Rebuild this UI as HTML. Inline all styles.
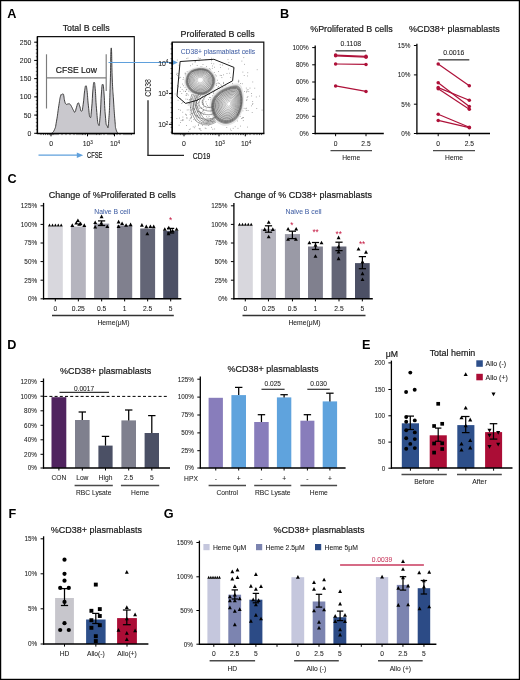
<!DOCTYPE html>
<html><head><meta charset="utf-8"><style>
html,body{margin:0;padding:0;background:#fff;}
body{width:520px;height:680px;position:relative;overflow:hidden;font-family:"Liberation Sans", sans-serif;}
.frame{position:absolute;left:0;top:0;width:520px;height:680px;box-sizing:border-box;border:1.5px solid #000;}
</style></head><body>
<svg width="520" height="680" viewBox="0 0 520 680" style="position:absolute;left:0;top:0;will-change:transform">
<g font-family='"Liberation Sans", sans-serif'>
<text x="0" y="0" font-size="12.3" font-weight="bold" fill="#000" transform="translate(7.2 17.5) scale(1.03 1)">A</text>
<text x="0" y="0" font-size="12.3" font-weight="bold" fill="#000" transform="translate(280.0 17.5) scale(1.03 1)">B</text>
<text x="0" y="0" font-size="12.3" font-weight="bold" fill="#000" transform="translate(7.5 183.2) scale(1.03 1)">C</text>
<text x="0" y="0" font-size="12.3" font-weight="bold" fill="#000" transform="translate(7.2 348.7) scale(1.03 1)">D</text>
<text x="0" y="0" font-size="12.3" font-weight="bold" fill="#000" transform="translate(362.0 348.7) scale(1.03 1)">E</text>
<text x="0" y="0" font-size="12.3" font-weight="bold" fill="#000" transform="translate(8.6 518.1) scale(1.03 1)">F</text>
<text x="0" y="0" font-size="12.3" font-weight="bold" fill="#000" transform="translate(163.7 518.1) scale(1.03 1)">G</text>
<text x="0" y="0" transform="translate(86.10 31.38) scale(1 1.1)" font-size="8.8" text-anchor="middle" fill="#1a1a1a" stroke="#1a1a1a" stroke-width="0.2" font-weight="normal">Total B cells</text>
<path d="M37.4,133.5 L37.4,36.6 L134.3,36.6 L134.3,133.5" fill="none" stroke="#111" stroke-width="1.1"/>
<path d="M51.30,133.50 C52.26,132.33 52.94,133.29 54.50,129.60 C56.06,125.91 55.21,128.34 56.50,121.20 C57.79,114.06 57.63,113.21 58.80,105.80 C59.97,98.39 59.56,99.83 60.40,96.50 C61.24,93.17 60.76,95.39 61.60,94.70 C62.44,94.01 62.54,93.87 63.20,94.20 C63.86,94.53 63.35,93.70 63.80,95.80 C64.25,97.90 63.98,98.68 64.70,101.20 C65.42,103.72 65.18,103.39 66.20,104.20 C67.22,105.01 66.99,103.90 68.10,103.90 C69.21,103.90 68.88,103.42 69.90,104.20 C70.92,104.98 70.42,104.64 71.50,106.50 C72.58,108.36 72.45,108.78 73.50,110.40 C74.55,112.02 74.10,112.83 75.00,111.90 C75.90,110.97 75.57,109.97 76.50,107.30 C77.43,104.63 77.17,103.45 78.10,103.00 C79.03,102.55 78.58,103.34 79.60,105.80 C80.62,108.26 80.42,111.68 81.50,111.20 C82.58,110.72 82.24,110.44 83.20,104.20 C84.16,97.96 83.89,95.83 84.70,90.40 C85.51,84.97 85.21,86.10 85.90,86.10 C86.59,86.10 86.25,84.49 87.00,90.40 C87.75,96.31 87.47,97.73 88.40,105.80 C89.33,113.87 89.14,116.40 90.10,117.30 C91.06,118.20 90.73,117.35 91.60,108.80 C92.47,100.25 92.25,96.63 93.00,88.80 C93.75,80.97 93.44,82.70 94.10,82.70 C94.76,82.70 94.48,80.97 95.20,88.80 C95.92,96.63 95.54,98.09 96.50,108.80 C97.46,119.51 97.32,122.19 98.40,124.50 C99.48,126.81 99.17,126.28 100.10,116.50 C101.03,106.72 100.72,101.44 101.50,91.90 C102.28,82.36 101.98,84.70 102.70,84.70 C103.42,84.70 103.12,82.81 103.90,91.90 C104.68,100.99 104.37,104.83 105.30,115.00 C106.23,125.17 105.95,124.42 107.00,125.80 C108.05,127.18 107.84,131.84 108.80,119.60 C109.76,107.36 109.48,106.48 110.20,85.00 C110.92,63.52 110.57,49.50 111.20,48.00 C111.83,46.50 111.61,64.40 112.30,80.00 C112.99,95.60 112.69,87.64 113.50,100.00 C114.31,112.36 114.22,112.32 115.00,121.20 C115.78,130.08 115.11,125.91 116.10,129.60 C117.09,133.29 117.64,132.33 118.30,133.50 Z" fill="#c9c8cd" stroke="#222" stroke-width="0.85" stroke-linejoin="round"/>
<line x1="36.80" y1="133.50" x2="134.90" y2="133.50" stroke="#000" stroke-width="1.5" />
<line x1="37.40" y1="36.60" x2="37.40" y2="133.50" stroke="#000" stroke-width="1.4" />
<line x1="34.20" y1="42.20" x2="37.40" y2="42.20" stroke="#000" stroke-width="1.0" />
<text x="31.30" y="44.68" font-size="6.9" text-anchor="end" fill="#1a1a1a" stroke="#1a1a1a" stroke-width="0.06" font-weight="normal" >250</text>
<line x1="34.20" y1="60.42" x2="37.40" y2="60.42" stroke="#000" stroke-width="1.0" />
<text x="31.30" y="62.90" font-size="6.9" text-anchor="end" fill="#1a1a1a" stroke="#1a1a1a" stroke-width="0.06" font-weight="normal" >200</text>
<line x1="34.20" y1="78.64" x2="37.40" y2="78.64" stroke="#000" stroke-width="1.0" />
<text x="31.30" y="81.12" font-size="6.9" text-anchor="end" fill="#1a1a1a" stroke="#1a1a1a" stroke-width="0.06" font-weight="normal" >150</text>
<line x1="34.20" y1="96.86" x2="37.40" y2="96.86" stroke="#000" stroke-width="1.0" />
<text x="31.30" y="99.34" font-size="6.9" text-anchor="end" fill="#1a1a1a" stroke="#1a1a1a" stroke-width="0.06" font-weight="normal" >100</text>
<line x1="34.20" y1="115.08" x2="37.40" y2="115.08" stroke="#000" stroke-width="1.0" />
<text x="31.30" y="117.56" font-size="6.9" text-anchor="end" fill="#1a1a1a" stroke="#1a1a1a" stroke-width="0.06" font-weight="normal" >50</text>
<line x1="34.20" y1="133.30" x2="37.40" y2="133.30" stroke="#000" stroke-width="1.0" />
<text x="31.30" y="135.78" font-size="6.9" text-anchor="end" fill="#1a1a1a" stroke="#1a1a1a" stroke-width="0.06" font-weight="normal" >0</text>
<line x1="35.80" y1="133.30" x2="37.40" y2="133.30" stroke="#000" stroke-width="0.6" />
<line x1="35.80" y1="129.66" x2="37.40" y2="129.66" stroke="#000" stroke-width="0.6" />
<line x1="35.80" y1="126.01" x2="37.40" y2="126.01" stroke="#000" stroke-width="0.6" />
<line x1="35.80" y1="122.37" x2="37.40" y2="122.37" stroke="#000" stroke-width="0.6" />
<line x1="35.80" y1="118.72" x2="37.40" y2="118.72" stroke="#000" stroke-width="0.6" />
<line x1="35.80" y1="115.08" x2="37.40" y2="115.08" stroke="#000" stroke-width="0.6" />
<line x1="35.80" y1="111.44" x2="37.40" y2="111.44" stroke="#000" stroke-width="0.6" />
<line x1="35.80" y1="107.79" x2="37.40" y2="107.79" stroke="#000" stroke-width="0.6" />
<line x1="35.80" y1="104.15" x2="37.40" y2="104.15" stroke="#000" stroke-width="0.6" />
<line x1="35.80" y1="100.50" x2="37.40" y2="100.50" stroke="#000" stroke-width="0.6" />
<line x1="35.80" y1="96.86" x2="37.40" y2="96.86" stroke="#000" stroke-width="0.6" />
<line x1="35.80" y1="93.22" x2="37.40" y2="93.22" stroke="#000" stroke-width="0.6" />
<line x1="35.80" y1="89.57" x2="37.40" y2="89.57" stroke="#000" stroke-width="0.6" />
<line x1="35.80" y1="85.93" x2="37.40" y2="85.93" stroke="#000" stroke-width="0.6" />
<line x1="35.80" y1="82.28" x2="37.40" y2="82.28" stroke="#000" stroke-width="0.6" />
<line x1="35.80" y1="78.64" x2="37.40" y2="78.64" stroke="#000" stroke-width="0.6" />
<line x1="35.80" y1="75.00" x2="37.40" y2="75.00" stroke="#000" stroke-width="0.6" />
<line x1="35.80" y1="71.35" x2="37.40" y2="71.35" stroke="#000" stroke-width="0.6" />
<line x1="35.80" y1="67.71" x2="37.40" y2="67.71" stroke="#000" stroke-width="0.6" />
<line x1="35.80" y1="64.06" x2="37.40" y2="64.06" stroke="#000" stroke-width="0.6" />
<line x1="35.80" y1="60.42" x2="37.40" y2="60.42" stroke="#000" stroke-width="0.6" />
<line x1="35.80" y1="56.78" x2="37.40" y2="56.78" stroke="#000" stroke-width="0.6" />
<line x1="35.80" y1="53.13" x2="37.40" y2="53.13" stroke="#000" stroke-width="0.6" />
<line x1="35.80" y1="49.49" x2="37.40" y2="49.49" stroke="#000" stroke-width="0.6" />
<line x1="35.80" y1="45.84" x2="37.40" y2="45.84" stroke="#000" stroke-width="0.6" />
<line x1="35.80" y1="42.20" x2="37.40" y2="42.20" stroke="#000" stroke-width="0.6" />
<line x1="51.00" y1="133.50" x2="51.00" y2="136.30" stroke="#000" stroke-width="1.0" />
<line x1="87.50" y1="133.50" x2="87.50" y2="136.30" stroke="#000" stroke-width="1.0" />
<line x1="114.50" y1="133.50" x2="114.50" y2="136.30" stroke="#000" stroke-width="1.0" />
<line x1="41.00" y1="133.50" x2="41.00" y2="135.10" stroke="#000" stroke-width="0.6" />
<line x1="43.50" y1="133.50" x2="43.50" y2="135.10" stroke="#000" stroke-width="0.6" />
<line x1="45.50" y1="133.50" x2="45.50" y2="135.10" stroke="#000" stroke-width="0.6" />
<line x1="47.50" y1="133.50" x2="47.50" y2="135.10" stroke="#000" stroke-width="0.6" />
<line x1="49.00" y1="133.50" x2="49.00" y2="135.10" stroke="#000" stroke-width="0.6" />
<line x1="50.00" y1="133.50" x2="50.00" y2="135.10" stroke="#000" stroke-width="0.6" />
<line x1="52.00" y1="133.50" x2="52.00" y2="135.10" stroke="#000" stroke-width="0.6" />
<line x1="53.00" y1="133.50" x2="53.00" y2="135.10" stroke="#000" stroke-width="0.6" />
<line x1="54.00" y1="133.50" x2="54.00" y2="135.10" stroke="#000" stroke-width="0.6" />
<line x1="56.00" y1="133.50" x2="56.00" y2="135.10" stroke="#000" stroke-width="0.6" />
<line x1="58.00" y1="133.50" x2="58.00" y2="135.10" stroke="#000" stroke-width="0.6" />
<line x1="62.00" y1="133.50" x2="62.00" y2="135.10" stroke="#000" stroke-width="0.6" />
<line x1="66.00" y1="133.50" x2="66.00" y2="135.10" stroke="#000" stroke-width="0.6" />
<line x1="70.00" y1="133.50" x2="70.00" y2="135.10" stroke="#000" stroke-width="0.6" />
<line x1="74.00" y1="133.50" x2="74.00" y2="135.10" stroke="#000" stroke-width="0.6" />
<line x1="77.00" y1="133.50" x2="77.00" y2="135.10" stroke="#000" stroke-width="0.6" />
<line x1="79.00" y1="133.50" x2="79.00" y2="135.10" stroke="#000" stroke-width="0.6" />
<line x1="81.00" y1="133.50" x2="81.00" y2="135.10" stroke="#000" stroke-width="0.6" />
<line x1="82.50" y1="133.50" x2="82.50" y2="135.10" stroke="#000" stroke-width="0.6" />
<line x1="84.00" y1="133.50" x2="84.00" y2="135.10" stroke="#000" stroke-width="0.6" />
<line x1="85.50" y1="133.50" x2="85.50" y2="135.10" stroke="#000" stroke-width="0.6" />
<line x1="89.00" y1="133.50" x2="89.00" y2="135.10" stroke="#000" stroke-width="0.6" />
<line x1="91.00" y1="133.50" x2="91.00" y2="135.10" stroke="#000" stroke-width="0.6" />
<line x1="93.00" y1="133.50" x2="93.00" y2="135.10" stroke="#000" stroke-width="0.6" />
<line x1="95.00" y1="133.50" x2="95.00" y2="135.10" stroke="#000" stroke-width="0.6" />
<line x1="96.50" y1="133.50" x2="96.50" y2="135.10" stroke="#000" stroke-width="0.6" />
<line x1="98.00" y1="133.50" x2="98.00" y2="135.10" stroke="#000" stroke-width="0.6" />
<line x1="99.50" y1="133.50" x2="99.50" y2="135.10" stroke="#000" stroke-width="0.6" />
<line x1="101.00" y1="133.50" x2="101.00" y2="135.10" stroke="#000" stroke-width="0.6" />
<line x1="104.00" y1="133.50" x2="104.00" y2="135.10" stroke="#000" stroke-width="0.6" />
<line x1="108.00" y1="133.50" x2="108.00" y2="135.10" stroke="#000" stroke-width="0.6" />
<line x1="110.00" y1="133.50" x2="110.00" y2="135.10" stroke="#000" stroke-width="0.6" />
<line x1="112.00" y1="133.50" x2="112.00" y2="135.10" stroke="#000" stroke-width="0.6" />
<line x1="113.50" y1="133.50" x2="113.50" y2="135.10" stroke="#000" stroke-width="0.6" />
<line x1="117.00" y1="133.50" x2="117.00" y2="135.10" stroke="#000" stroke-width="0.6" />
<line x1="120.00" y1="133.50" x2="120.00" y2="135.10" stroke="#000" stroke-width="0.6" />
<line x1="124.00" y1="133.50" x2="124.00" y2="135.10" stroke="#000" stroke-width="0.6" />
<line x1="126.00" y1="133.50" x2="126.00" y2="135.10" stroke="#000" stroke-width="0.6" />
<line x1="128.00" y1="133.50" x2="128.00" y2="135.10" stroke="#000" stroke-width="0.6" />
<line x1="130.00" y1="133.50" x2="130.00" y2="135.10" stroke="#000" stroke-width="0.6" />
<line x1="131.50" y1="133.50" x2="131.50" y2="135.10" stroke="#000" stroke-width="0.6" />
<text x="51.10" y="146.08" font-size="6.9" text-anchor="middle" fill="#1a1a1a" stroke="#1a1a1a" stroke-width="0.06" font-weight="normal" >0</text>
<text x="87.80" y="146.08" font-size="6.9" text-anchor="middle" fill="#1a1a1a" stroke="#1a1a1a" stroke-width="0.06" font-weight="normal" >10<tspan font-size="4.6" dy="-2.4">3</tspan></text>
<text x="115.00" y="146.08" font-size="6.9" text-anchor="middle" fill="#1a1a1a" stroke="#1a1a1a" stroke-width="0.06" font-weight="normal" >10<tspan font-size="4.6" dy="-2.4">4</tspan></text>
<line x1="46.50" y1="54.30" x2="46.50" y2="108.50" stroke="#7c7c7c" stroke-width="1.15" />
<line x1="46.50" y1="77.80" x2="106.20" y2="77.80" stroke="#7c7c7c" stroke-width="1.15" />
<line x1="106.20" y1="54.30" x2="106.20" y2="91.00" stroke="#7c7c7c" stroke-width="1.15" />
<text x="0" y="0" transform="translate(76.30 73.41) scale(1 1.1)" font-size="8.6" text-anchor="middle" fill="#1a1a1a" stroke="#1a1a1a" stroke-width="0.2" font-weight="normal">CFSE Low</text>
<line x1="108.50" y1="62.50" x2="173.50" y2="62.50" stroke="#5fa0dc" stroke-width="1.2" />
<polygon points="171.5,59.5 177.8,62.5 171.5,65.5" fill="#5fa0dc"/>
<line x1="38.50" y1="155.20" x2="78.00" y2="155.20" stroke="#5fa0dc" stroke-width="1.2" />
<polygon points="76.8,152.4 83.2,155.2 76.8,158" fill="#5fa0dc"/>
<text x="94.70" y="158.36" font-size="8.5" text-anchor="middle" fill="#1a1a1a" stroke="#1a1a1a" stroke-width="0.2" font-weight="normal" transform="translate(94.7 0) scale(0.67 1) translate(-94.7 0)">CFSE</text>
<path d="M172.2,133.5 L172.2,42.2 L263.8,42.2 L263.8,133.5" fill="none" stroke="#111" stroke-width="1.2"/>
<line x1="171.60" y1="133.50" x2="264.40" y2="133.50" stroke="#000" stroke-width="1.5" />
<line x1="172.20" y1="42.20" x2="172.20" y2="133.50" stroke="#000" stroke-width="1.4" />
<text x="0" y="0" transform="translate(217.60 36.72) scale(1 1.1)" font-size="8.9" text-anchor="middle" fill="#1a1a1a" stroke="#1a1a1a" stroke-width="0.2" font-weight="normal">Proliferated B cells</text>
<text x="218.00" y="53.73" font-size="6.75" text-anchor="middle" fill="#4663a6" stroke="#4663a6" stroke-width="0.06" font-weight="normal" >CD38+ plasmablast cells</text>
<line x1="169.00" y1="63.00" x2="172.20" y2="63.00" stroke="#000" stroke-width="1.0" />
<text x="163.30" y="65.78" font-size="6.9" text-anchor="middle" fill="#1a1a1a" stroke="#1a1a1a" stroke-width="0.06" font-weight="normal" >10<tspan font-size="4.6" dy="-2.4">4</tspan></text>
<line x1="169.00" y1="93.60" x2="172.20" y2="93.60" stroke="#000" stroke-width="1.0" />
<text x="163.30" y="96.38" font-size="6.9" text-anchor="middle" fill="#1a1a1a" stroke="#1a1a1a" stroke-width="0.06" font-weight="normal" >10<tspan font-size="4.6" dy="-2.4">3</tspan></text>
<line x1="169.00" y1="124.30" x2="172.20" y2="124.30" stroke="#000" stroke-width="1.0" />
<text x="163.30" y="127.08" font-size="6.9" text-anchor="middle" fill="#1a1a1a" stroke="#1a1a1a" stroke-width="0.06" font-weight="normal" >10<tspan font-size="4.6" dy="-2.4">2</tspan></text>
<line x1="170.60" y1="44.00" x2="172.20" y2="44.00" stroke="#000" stroke-width="0.6" />
<line x1="170.60" y1="48.90" x2="172.20" y2="48.90" stroke="#000" stroke-width="0.6" />
<line x1="170.60" y1="53.80" x2="172.20" y2="53.80" stroke="#000" stroke-width="0.6" />
<line x1="170.60" y1="58.70" x2="172.20" y2="58.70" stroke="#000" stroke-width="0.6" />
<line x1="170.60" y1="63.60" x2="172.20" y2="63.60" stroke="#000" stroke-width="0.6" />
<line x1="170.60" y1="68.50" x2="172.20" y2="68.50" stroke="#000" stroke-width="0.6" />
<line x1="170.60" y1="73.40" x2="172.20" y2="73.40" stroke="#000" stroke-width="0.6" />
<line x1="170.60" y1="78.30" x2="172.20" y2="78.30" stroke="#000" stroke-width="0.6" />
<line x1="170.60" y1="83.20" x2="172.20" y2="83.20" stroke="#000" stroke-width="0.6" />
<line x1="170.60" y1="88.10" x2="172.20" y2="88.10" stroke="#000" stroke-width="0.6" />
<line x1="170.60" y1="93.00" x2="172.20" y2="93.00" stroke="#000" stroke-width="0.6" />
<line x1="170.60" y1="97.90" x2="172.20" y2="97.90" stroke="#000" stroke-width="0.6" />
<line x1="170.60" y1="102.80" x2="172.20" y2="102.80" stroke="#000" stroke-width="0.6" />
<line x1="170.60" y1="107.70" x2="172.20" y2="107.70" stroke="#000" stroke-width="0.6" />
<line x1="170.60" y1="112.60" x2="172.20" y2="112.60" stroke="#000" stroke-width="0.6" />
<line x1="170.60" y1="117.50" x2="172.20" y2="117.50" stroke="#000" stroke-width="0.6" />
<line x1="170.60" y1="122.40" x2="172.20" y2="122.40" stroke="#000" stroke-width="0.6" />
<line x1="170.60" y1="127.30" x2="172.20" y2="127.30" stroke="#000" stroke-width="0.6" />
<line x1="170.60" y1="132.20" x2="172.20" y2="132.20" stroke="#000" stroke-width="0.6" />
<line x1="184.00" y1="133.50" x2="184.00" y2="136.30" stroke="#000" stroke-width="1.0" />
<text x="184.00" y="146.08" font-size="6.9" text-anchor="middle" fill="#1a1a1a" stroke="#1a1a1a" stroke-width="0.06" font-weight="normal" >0</text>
<line x1="219.00" y1="133.50" x2="219.00" y2="136.30" stroke="#000" stroke-width="1.0" />
<text x="219.80" y="146.08" font-size="6.9" text-anchor="middle" fill="#1a1a1a" stroke="#1a1a1a" stroke-width="0.06" font-weight="normal" >10<tspan font-size="4.6" dy="-2.4">3</tspan></text>
<line x1="245.30" y1="133.50" x2="245.30" y2="136.30" stroke="#000" stroke-width="1.0" />
<text x="246.10" y="146.08" font-size="6.9" text-anchor="middle" fill="#1a1a1a" stroke="#1a1a1a" stroke-width="0.06" font-weight="normal" >10<tspan font-size="4.6" dy="-2.4">4</tspan></text>
<line x1="175.00" y1="133.50" x2="175.00" y2="135.10" stroke="#000" stroke-width="0.6" />
<line x1="177.00" y1="133.50" x2="177.00" y2="135.10" stroke="#000" stroke-width="0.6" />
<line x1="179.00" y1="133.50" x2="179.00" y2="135.10" stroke="#000" stroke-width="0.6" />
<line x1="180.50" y1="133.50" x2="180.50" y2="135.10" stroke="#000" stroke-width="0.6" />
<line x1="182.00" y1="133.50" x2="182.00" y2="135.10" stroke="#000" stroke-width="0.6" />
<line x1="183.00" y1="133.50" x2="183.00" y2="135.10" stroke="#000" stroke-width="0.6" />
<line x1="185.00" y1="133.50" x2="185.00" y2="135.10" stroke="#000" stroke-width="0.6" />
<line x1="186.00" y1="133.50" x2="186.00" y2="135.10" stroke="#000" stroke-width="0.6" />
<line x1="188.00" y1="133.50" x2="188.00" y2="135.10" stroke="#000" stroke-width="0.6" />
<line x1="190.00" y1="133.50" x2="190.00" y2="135.10" stroke="#000" stroke-width="0.6" />
<line x1="193.00" y1="133.50" x2="193.00" y2="135.10" stroke="#000" stroke-width="0.6" />
<line x1="197.00" y1="133.50" x2="197.00" y2="135.10" stroke="#000" stroke-width="0.6" />
<line x1="201.00" y1="133.50" x2="201.00" y2="135.10" stroke="#000" stroke-width="0.6" />
<line x1="205.00" y1="133.50" x2="205.00" y2="135.10" stroke="#000" stroke-width="0.6" />
<line x1="208.00" y1="133.50" x2="208.00" y2="135.10" stroke="#000" stroke-width="0.6" />
<line x1="210.50" y1="133.50" x2="210.50" y2="135.10" stroke="#000" stroke-width="0.6" />
<line x1="212.50" y1="133.50" x2="212.50" y2="135.10" stroke="#000" stroke-width="0.6" />
<line x1="214.00" y1="133.50" x2="214.00" y2="135.10" stroke="#000" stroke-width="0.6" />
<line x1="215.50" y1="133.50" x2="215.50" y2="135.10" stroke="#000" stroke-width="0.6" />
<line x1="217.00" y1="133.50" x2="217.00" y2="135.10" stroke="#000" stroke-width="0.6" />
<line x1="221.00" y1="133.50" x2="221.00" y2="135.10" stroke="#000" stroke-width="0.6" />
<line x1="224.00" y1="133.50" x2="224.00" y2="135.10" stroke="#000" stroke-width="0.6" />
<line x1="227.00" y1="133.50" x2="227.00" y2="135.10" stroke="#000" stroke-width="0.6" />
<line x1="230.00" y1="133.50" x2="230.00" y2="135.10" stroke="#000" stroke-width="0.6" />
<line x1="233.00" y1="133.50" x2="233.00" y2="135.10" stroke="#000" stroke-width="0.6" />
<line x1="236.00" y1="133.50" x2="236.00" y2="135.10" stroke="#000" stroke-width="0.6" />
<line x1="238.50" y1="133.50" x2="238.50" y2="135.10" stroke="#000" stroke-width="0.6" />
<line x1="240.50" y1="133.50" x2="240.50" y2="135.10" stroke="#000" stroke-width="0.6" />
<line x1="242.00" y1="133.50" x2="242.00" y2="135.10" stroke="#000" stroke-width="0.6" />
<line x1="243.50" y1="133.50" x2="243.50" y2="135.10" stroke="#000" stroke-width="0.6" />
<line x1="247.00" y1="133.50" x2="247.00" y2="135.10" stroke="#000" stroke-width="0.6" />
<line x1="250.00" y1="133.50" x2="250.00" y2="135.10" stroke="#000" stroke-width="0.6" />
<line x1="254.00" y1="133.50" x2="254.00" y2="135.10" stroke="#000" stroke-width="0.6" />
<line x1="257.00" y1="133.50" x2="257.00" y2="135.10" stroke="#000" stroke-width="0.6" />
<line x1="259.50" y1="133.50" x2="259.50" y2="135.10" stroke="#000" stroke-width="0.6" />
<line x1="261.50" y1="133.50" x2="261.50" y2="135.10" stroke="#000" stroke-width="0.6" />
<line x1="148.00" y1="100.20" x2="148.00" y2="155.40" stroke="#222" stroke-width="1.3" />
<line x1="147.35" y1="155.40" x2="184.00" y2="155.40" stroke="#222" stroke-width="1.3" />
<text x="0" y="0" font-size="9.3" fill="#1a1a1a" text-anchor="middle" transform="translate(151.2 88) rotate(-90) scale(0.74 1)">CD38</text>
<text x="201.50" y="158.95" font-size="9.3" text-anchor="middle" fill="#1a1a1a" stroke="#1a1a1a" stroke-width="0.2" font-weight="normal" transform="translate(201.5 0) scale(0.74 1) translate(-201.5 0)">CD19</text>
<rect x="209.2" y="97.0" width="0.75" height="0.75" fill="#7a7a7a"/>
<rect x="187.8" y="81.7" width="0.75" height="0.75" fill="#7a7a7a"/>
<rect x="195.7" y="83.9" width="0.75" height="0.75" fill="#7a7a7a"/>
<rect x="233.1" y="107.6" width="0.75" height="0.75" fill="#7a7a7a"/>
<rect x="231.1" y="98.6" width="0.75" height="0.75" fill="#7a7a7a"/>
<rect x="178.7" y="64.8" width="0.75" height="0.75" fill="#7a7a7a"/>
<rect x="199.7" y="128.1" width="0.75" height="0.75" fill="#7a7a7a"/>
<rect x="205.3" y="76.9" width="0.75" height="0.75" fill="#7a7a7a"/>
<rect x="206.6" y="90.4" width="0.75" height="0.75" fill="#7a7a7a"/>
<rect x="189.0" y="99.0" width="0.75" height="0.75" fill="#7a7a7a"/>
<rect x="216.6" y="117.7" width="0.75" height="0.75" fill="#7a7a7a"/>
<rect x="206.6" y="86.7" width="0.75" height="0.75" fill="#7a7a7a"/>
<rect x="189.8" y="118.4" width="0.75" height="0.75" fill="#7a7a7a"/>
<rect x="217.5" y="108.4" width="0.75" height="0.75" fill="#7a7a7a"/>
<rect x="194.1" y="108.6" width="0.75" height="0.75" fill="#7a7a7a"/>
<rect x="201.8" y="100.5" width="0.75" height="0.75" fill="#7a7a7a"/>
<rect x="181.4" y="93.1" width="0.75" height="0.75" fill="#7a7a7a"/>
<rect x="195.6" y="84.2" width="0.75" height="0.75" fill="#7a7a7a"/>
<rect x="197.0" y="103.3" width="0.75" height="0.75" fill="#7a7a7a"/>
<rect x="198.6" y="107.5" width="0.75" height="0.75" fill="#7a7a7a"/>
<rect x="215.4" y="97.6" width="0.75" height="0.75" fill="#7a7a7a"/>
<rect x="244.0" y="91.1" width="0.75" height="0.75" fill="#7a7a7a"/>
<rect x="207.5" y="120.2" width="0.75" height="0.75" fill="#7a7a7a"/>
<rect x="252.1" y="103.9" width="0.75" height="0.75" fill="#7a7a7a"/>
<rect x="185.6" y="94.8" width="0.75" height="0.75" fill="#7a7a7a"/>
<rect x="191.9" y="85.6" width="0.75" height="0.75" fill="#7a7a7a"/>
<rect x="218.1" y="90.8" width="0.75" height="0.75" fill="#7a7a7a"/>
<rect x="199.2" y="95.0" width="0.75" height="0.75" fill="#7a7a7a"/>
<rect x="181.8" y="89.2" width="0.75" height="0.75" fill="#7a7a7a"/>
<rect x="245.9" y="87.7" width="0.75" height="0.75" fill="#7a7a7a"/>
<rect x="196.0" y="86.7" width="0.75" height="0.75" fill="#7a7a7a"/>
<rect x="252.4" y="81.6" width="0.75" height="0.75" fill="#7a7a7a"/>
<rect x="202.9" y="91.1" width="0.75" height="0.75" fill="#7a7a7a"/>
<rect x="183.1" y="85.4" width="0.75" height="0.75" fill="#7a7a7a"/>
<rect x="211.5" y="84.3" width="0.75" height="0.75" fill="#7a7a7a"/>
<rect x="198.6" y="91.0" width="0.75" height="0.75" fill="#7a7a7a"/>
<rect x="185.0" y="113.8" width="0.75" height="0.75" fill="#7a7a7a"/>
<rect x="212.2" y="121.4" width="0.75" height="0.75" fill="#7a7a7a"/>
<rect x="206.1" y="103.6" width="0.75" height="0.75" fill="#7a7a7a"/>
<rect x="223.1" y="108.9" width="0.75" height="0.75" fill="#7a7a7a"/>
<rect x="232.5" y="107.0" width="0.75" height="0.75" fill="#7a7a7a"/>
<rect x="204.7" y="92.5" width="0.75" height="0.75" fill="#7a7a7a"/>
<rect x="205.9" y="84.0" width="0.75" height="0.75" fill="#7a7a7a"/>
<rect x="197.2" y="85.9" width="0.75" height="0.75" fill="#7a7a7a"/>
<rect x="220.2" y="67.0" width="0.75" height="0.75" fill="#7a7a7a"/>
<rect x="192.4" y="92.6" width="0.75" height="0.75" fill="#7a7a7a"/>
<rect x="222.5" y="105.6" width="0.75" height="0.75" fill="#7a7a7a"/>
<rect x="193.8" y="91.2" width="0.75" height="0.75" fill="#7a7a7a"/>
<rect x="187.6" y="57.7" width="0.75" height="0.75" fill="#7a7a7a"/>
<rect x="214.0" y="66.8" width="0.75" height="0.75" fill="#7a7a7a"/>
<rect x="243.7" y="107.9" width="0.75" height="0.75" fill="#7a7a7a"/>
<rect x="238.2" y="107.5" width="0.75" height="0.75" fill="#7a7a7a"/>
<rect x="194.1" y="88.9" width="0.75" height="0.75" fill="#7a7a7a"/>
<rect x="182.4" y="111.8" width="0.75" height="0.75" fill="#7a7a7a"/>
<rect x="202.7" y="103.8" width="0.75" height="0.75" fill="#7a7a7a"/>
<rect x="237.4" y="115.6" width="0.75" height="0.75" fill="#7a7a7a"/>
<rect x="229.3" y="72.8" width="0.75" height="0.75" fill="#7a7a7a"/>
<rect x="226.1" y="107.7" width="0.75" height="0.75" fill="#7a7a7a"/>
<rect x="197.3" y="92.4" width="0.75" height="0.75" fill="#7a7a7a"/>
<rect x="204.4" y="112.4" width="0.75" height="0.75" fill="#7a7a7a"/>
<rect x="247.1" y="126.7" width="0.75" height="0.75" fill="#7a7a7a"/>
<rect x="229.7" y="114.9" width="0.75" height="0.75" fill="#7a7a7a"/>
<rect x="203.7" y="98.8" width="0.75" height="0.75" fill="#7a7a7a"/>
<rect x="236.5" y="91.5" width="0.75" height="0.75" fill="#7a7a7a"/>
<rect x="197.0" y="111.4" width="0.75" height="0.75" fill="#7a7a7a"/>
<rect x="207.8" y="106.6" width="0.75" height="0.75" fill="#7a7a7a"/>
<rect x="191.0" y="115.8" width="0.75" height="0.75" fill="#7a7a7a"/>
<rect x="188.9" y="129.0" width="0.75" height="0.75" fill="#7a7a7a"/>
<rect x="204.5" y="85.7" width="0.75" height="0.75" fill="#7a7a7a"/>
<rect x="228.2" y="68.6" width="0.75" height="0.75" fill="#7a7a7a"/>
<rect x="214.1" y="103.4" width="0.75" height="0.75" fill="#7a7a7a"/>
<rect x="186.5" y="117.2" width="0.75" height="0.75" fill="#7a7a7a"/>
<rect x="223.3" y="81.9" width="0.75" height="0.75" fill="#7a7a7a"/>
<rect x="229.5" y="106.7" width="0.75" height="0.75" fill="#7a7a7a"/>
<rect x="222.8" y="95.0" width="0.75" height="0.75" fill="#7a7a7a"/>
<rect x="207.2" y="120.5" width="0.75" height="0.75" fill="#7a7a7a"/>
<rect x="191.2" y="74.6" width="0.75" height="0.75" fill="#7a7a7a"/>
<rect x="199.9" y="98.6" width="0.75" height="0.75" fill="#7a7a7a"/>
<rect x="193.4" y="86.8" width="0.75" height="0.75" fill="#7a7a7a"/>
<rect x="201.5" y="89.9" width="0.75" height="0.75" fill="#7a7a7a"/>
<rect x="239.2" y="96.7" width="0.75" height="0.75" fill="#7a7a7a"/>
<rect x="212.1" y="95.4" width="0.75" height="0.75" fill="#7a7a7a"/>
<rect x="241.9" y="106.8" width="0.75" height="0.75" fill="#7a7a7a"/>
<rect x="220.5" y="84.5" width="0.75" height="0.75" fill="#7a7a7a"/>
<rect x="180.0" y="86.9" width="0.75" height="0.75" fill="#7a7a7a"/>
<rect x="220.8" y="120.0" width="0.75" height="0.75" fill="#7a7a7a"/>
<rect x="229.3" y="98.5" width="0.75" height="0.75" fill="#7a7a7a"/>
<rect x="228.1" y="116.3" width="0.75" height="0.75" fill="#7a7a7a"/>
<rect x="185.7" y="114.4" width="0.75" height="0.75" fill="#7a7a7a"/>
<rect x="203.4" y="109.9" width="0.75" height="0.75" fill="#7a7a7a"/>
<rect x="212.4" y="104.4" width="0.75" height="0.75" fill="#7a7a7a"/>
<rect x="186.6" y="118.3" width="0.75" height="0.75" fill="#7a7a7a"/>
<rect x="246.8" y="97.2" width="0.75" height="0.75" fill="#7a7a7a"/>
<rect x="243.8" y="75.2" width="0.75" height="0.75" fill="#7a7a7a"/>
<rect x="251.3" y="95.6" width="0.75" height="0.75" fill="#7a7a7a"/>
<rect x="208.4" y="92.2" width="0.75" height="0.75" fill="#7a7a7a"/>
<rect x="199.3" y="88.3" width="0.75" height="0.75" fill="#7a7a7a"/>
<rect x="199.6" y="96.2" width="0.75" height="0.75" fill="#7a7a7a"/>
<rect x="195.3" y="68.2" width="0.75" height="0.75" fill="#7a7a7a"/>
<rect x="222.3" y="64.7" width="0.75" height="0.75" fill="#7a7a7a"/>
<rect x="210.6" y="80.7" width="0.75" height="0.75" fill="#7a7a7a"/>
<rect x="252.5" y="103.3" width="0.75" height="0.75" fill="#7a7a7a"/>
<rect x="185.9" y="89.5" width="0.75" height="0.75" fill="#7a7a7a"/>
<rect x="202.5" y="93.1" width="0.75" height="0.75" fill="#7a7a7a"/>
<rect x="206.1" y="116.4" width="0.75" height="0.75" fill="#7a7a7a"/>
<rect x="239.6" y="106.4" width="0.75" height="0.75" fill="#7a7a7a"/>
<rect x="223.3" y="104.6" width="0.75" height="0.75" fill="#7a7a7a"/>
<rect x="232.8" y="127.9" width="0.75" height="0.75" fill="#7a7a7a"/>
<rect x="198.7" y="87.1" width="0.75" height="0.75" fill="#7a7a7a"/>
<rect x="195.5" y="119.7" width="0.75" height="0.75" fill="#7a7a7a"/>
<rect x="248.4" y="91.3" width="0.75" height="0.75" fill="#7a7a7a"/>
<rect x="214.9" y="103.9" width="0.75" height="0.75" fill="#7a7a7a"/>
<rect x="226.3" y="99.2" width="0.75" height="0.75" fill="#7a7a7a"/>
<rect x="194.2" y="73.3" width="0.75" height="0.75" fill="#7a7a7a"/>
<rect x="214.8" y="78.1" width="0.75" height="0.75" fill="#7a7a7a"/>
<rect x="182.0" y="119.4" width="0.75" height="0.75" fill="#7a7a7a"/>
<rect x="207.6" y="74.8" width="0.75" height="0.75" fill="#7a7a7a"/>
<rect x="209.1" y="93.8" width="0.75" height="0.75" fill="#7a7a7a"/>
<rect x="204.5" y="88.1" width="0.75" height="0.75" fill="#7a7a7a"/>
<rect x="202.1" y="93.1" width="0.75" height="0.75" fill="#7a7a7a"/>
<rect x="199.6" y="74.9" width="0.75" height="0.75" fill="#7a7a7a"/>
<rect x="233.3" y="116.6" width="0.75" height="0.75" fill="#7a7a7a"/>
<rect x="199.0" y="85.9" width="0.75" height="0.75" fill="#7a7a7a"/>
<rect x="191.1" y="113.2" width="0.75" height="0.75" fill="#7a7a7a"/>
<rect x="233.7" y="102.4" width="0.75" height="0.75" fill="#7a7a7a"/>
<rect x="207.1" y="92.6" width="0.75" height="0.75" fill="#7a7a7a"/>
<rect x="204.3" y="93.5" width="0.75" height="0.75" fill="#7a7a7a"/>
<rect x="203.3" y="114.1" width="0.75" height="0.75" fill="#7a7a7a"/>
<rect x="226.9" y="103.1" width="0.75" height="0.75" fill="#7a7a7a"/>
<rect x="225.5" y="108.8" width="0.75" height="0.75" fill="#7a7a7a"/>
<rect x="216.8" y="91.8" width="0.75" height="0.75" fill="#7a7a7a"/>
<rect x="201.6" y="88.0" width="0.75" height="0.75" fill="#7a7a7a"/>
<rect x="238.7" y="105.6" width="0.75" height="0.75" fill="#7a7a7a"/>
<rect x="199.5" y="93.2" width="0.75" height="0.75" fill="#7a7a7a"/>
<rect x="235.8" y="117.7" width="0.75" height="0.75" fill="#7a7a7a"/>
<rect x="230.3" y="77.0" width="0.75" height="0.75" fill="#7a7a7a"/>
<rect x="198.7" y="84.4" width="0.75" height="0.75" fill="#7a7a7a"/>
<rect x="212.8" y="107.6" width="0.75" height="0.75" fill="#7a7a7a"/>
<rect x="197.8" y="84.0" width="0.75" height="0.75" fill="#7a7a7a"/>
<rect x="209.2" y="89.9" width="0.75" height="0.75" fill="#7a7a7a"/>
<rect x="209.1" y="85.3" width="0.75" height="0.75" fill="#7a7a7a"/>
<rect x="186.3" y="77.1" width="0.75" height="0.75" fill="#7a7a7a"/>
<rect x="189.0" y="103.1" width="0.75" height="0.75" fill="#7a7a7a"/>
<rect x="204.0" y="80.1" width="0.75" height="0.75" fill="#7a7a7a"/>
<rect x="186.8" y="109.6" width="0.75" height="0.75" fill="#7a7a7a"/>
<rect x="251.8" y="112.2" width="0.75" height="0.75" fill="#7a7a7a"/>
<rect x="221.2" y="110.3" width="0.75" height="0.75" fill="#7a7a7a"/>
<rect x="186.0" y="94.8" width="0.75" height="0.75" fill="#7a7a7a"/>
<rect x="240.0" y="83.2" width="0.75" height="0.75" fill="#7a7a7a"/>
<rect x="218.1" y="122.1" width="0.75" height="0.75" fill="#7a7a7a"/>
<rect x="194.0" y="108.9" width="0.75" height="0.75" fill="#7a7a7a"/>
<rect x="206.6" y="91.7" width="0.75" height="0.75" fill="#7a7a7a"/>
<rect x="206.9" y="71.9" width="0.75" height="0.75" fill="#7a7a7a"/>
<rect x="214.2" y="89.9" width="0.75" height="0.75" fill="#7a7a7a"/>
<rect x="251.2" y="105.5" width="0.75" height="0.75" fill="#7a7a7a"/>
<rect x="186.1" y="114.8" width="0.75" height="0.75" fill="#7a7a7a"/>
<rect x="208.0" y="120.9" width="0.75" height="0.75" fill="#7a7a7a"/>
<rect x="207.4" y="87.9" width="0.75" height="0.75" fill="#7a7a7a"/>
<rect x="199.6" y="129.2" width="0.75" height="0.75" fill="#7a7a7a"/>
<rect x="211.6" y="84.3" width="0.75" height="0.75" fill="#7a7a7a"/>
<rect x="219.0" y="83.1" width="0.75" height="0.75" fill="#7a7a7a"/>
<rect x="224.7" y="100.6" width="0.75" height="0.75" fill="#7a7a7a"/>
<rect x="198.5" y="102.1" width="0.75" height="0.75" fill="#7a7a7a"/>
<rect x="197.3" y="83.3" width="0.75" height="0.75" fill="#7a7a7a"/>
<rect x="196.9" y="100.3" width="0.75" height="0.75" fill="#7a7a7a"/>
<rect x="193.0" y="108.3" width="0.75" height="0.75" fill="#7a7a7a"/>
<rect x="213.8" y="108.5" width="0.75" height="0.75" fill="#7a7a7a"/>
<rect x="205.3" y="79.5" width="0.75" height="0.75" fill="#7a7a7a"/>
<rect x="243.4" y="57.3" width="0.75" height="0.75" fill="#7a7a7a"/>
<rect x="242.5" y="71.7" width="0.75" height="0.75" fill="#7a7a7a"/>
<rect x="227.0" y="114.5" width="0.75" height="0.75" fill="#7a7a7a"/>
<rect x="191.2" y="99.0" width="0.75" height="0.75" fill="#7a7a7a"/>
<rect x="205.1" y="72.1" width="0.75" height="0.75" fill="#7a7a7a"/>
<rect x="226.6" y="73.1" width="0.75" height="0.75" fill="#7a7a7a"/>
<rect x="211.0" y="57.8" width="0.75" height="0.75" fill="#7a7a7a"/>
<rect x="185.9" y="84.6" width="0.75" height="0.75" fill="#7a7a7a"/>
<rect x="206.0" y="91.8" width="0.75" height="0.75" fill="#7a7a7a"/>
<rect x="199.4" y="83.5" width="0.75" height="0.75" fill="#7a7a7a"/>
<rect x="198.1" y="111.1" width="0.75" height="0.75" fill="#7a7a7a"/>
<rect x="227.3" y="122.7" width="0.75" height="0.75" fill="#7a7a7a"/>
<rect x="190.7" y="91.9" width="0.75" height="0.75" fill="#7a7a7a"/>
<rect x="218.4" y="82.7" width="0.75" height="0.75" fill="#7a7a7a"/>
<rect x="227.4" y="109.3" width="0.75" height="0.75" fill="#7a7a7a"/>
<rect x="204.0" y="76.2" width="0.75" height="0.75" fill="#7a7a7a"/>
<rect x="194.0" y="75.7" width="0.75" height="0.75" fill="#7a7a7a"/>
<rect x="232.6" y="117.6" width="0.75" height="0.75" fill="#7a7a7a"/>
<rect x="239.7" y="116.1" width="0.75" height="0.75" fill="#7a7a7a"/>
<rect x="254.4" y="87.8" width="0.75" height="0.75" fill="#7a7a7a"/>
<rect x="227.2" y="100.6" width="0.75" height="0.75" fill="#7a7a7a"/>
<rect x="183.3" y="119.6" width="0.75" height="0.75" fill="#7a7a7a"/>
<rect x="227.1" y="109.3" width="0.75" height="0.75" fill="#7a7a7a"/>
<rect x="185.2" y="90.9" width="0.75" height="0.75" fill="#7a7a7a"/>
<rect x="193.2" y="101.2" width="0.75" height="0.75" fill="#7a7a7a"/>
<rect x="194.7" y="104.5" width="0.75" height="0.75" fill="#7a7a7a"/>
<rect x="187.8" y="80.1" width="0.75" height="0.75" fill="#7a7a7a"/>
<rect x="203.3" y="90.4" width="0.75" height="0.75" fill="#7a7a7a"/>
<rect x="211.8" y="72.3" width="0.75" height="0.75" fill="#7a7a7a"/>
<rect x="247.7" y="89.3" width="0.75" height="0.75" fill="#7a7a7a"/>
<rect x="200.9" y="88.5" width="0.75" height="0.75" fill="#7a7a7a"/>
<rect x="206.5" y="88.4" width="0.75" height="0.75" fill="#7a7a7a"/>
<rect x="176.3" y="74.3" width="0.75" height="0.75" fill="#7a7a7a"/>
<rect x="188.9" y="119.8" width="0.75" height="0.75" fill="#7a7a7a"/>
<rect x="219.6" y="113.9" width="0.75" height="0.75" fill="#7a7a7a"/>
<rect x="193.6" y="112.4" width="0.75" height="0.75" fill="#7a7a7a"/>
<rect x="182.1" y="83.7" width="0.75" height="0.75" fill="#7a7a7a"/>
<rect x="191.5" y="76.1" width="0.75" height="0.75" fill="#7a7a7a"/>
<rect x="188.5" y="91.0" width="0.75" height="0.75" fill="#7a7a7a"/>
<rect x="237.1" y="120.6" width="0.75" height="0.75" fill="#7a7a7a"/>
<rect x="217.5" y="87.5" width="0.75" height="0.75" fill="#7a7a7a"/>
<rect x="210.1" y="99.5" width="0.75" height="0.75" fill="#7a7a7a"/>
<rect x="177.7" y="99.8" width="0.75" height="0.75" fill="#7a7a7a"/>
<rect x="237.6" y="127.9" width="0.75" height="0.75" fill="#7a7a7a"/>
<rect x="204.4" y="88.0" width="0.75" height="0.75" fill="#7a7a7a"/>
<rect x="215.2" y="74.6" width="0.75" height="0.75" fill="#7a7a7a"/>
<rect x="187.8" y="102.8" width="0.75" height="0.75" fill="#7a7a7a"/>
<rect x="224.5" y="103.7" width="0.75" height="0.75" fill="#7a7a7a"/>
<rect x="225.7" y="111.9" width="0.75" height="0.75" fill="#7a7a7a"/>
<rect x="186.8" y="71.1" width="0.75" height="0.75" fill="#7a7a7a"/>
<rect x="212.2" y="89.7" width="0.75" height="0.75" fill="#7a7a7a"/>
<rect x="220.9" y="111.4" width="0.75" height="0.75" fill="#7a7a7a"/>
<rect x="239.0" y="105.8" width="0.75" height="0.75" fill="#7a7a7a"/>
<rect x="246.1" y="99.9" width="0.75" height="0.75" fill="#7a7a7a"/>
<rect x="210.2" y="73.4" width="0.75" height="0.75" fill="#7a7a7a"/>
<rect x="217.2" y="79.8" width="0.75" height="0.75" fill="#7a7a7a"/>
<rect x="213.0" y="85.8" width="0.75" height="0.75" fill="#7a7a7a"/>
<rect x="190.6" y="118.3" width="0.75" height="0.75" fill="#7a7a7a"/>
<rect x="201.1" y="112.1" width="0.75" height="0.75" fill="#7a7a7a"/>
<rect x="192.4" y="93.8" width="0.75" height="0.75" fill="#7a7a7a"/>
<rect x="200.6" y="130.2" width="0.75" height="0.75" fill="#7a7a7a"/>
<rect x="190.6" y="114.8" width="0.75" height="0.75" fill="#7a7a7a"/>
<rect x="198.4" y="116.7" width="0.75" height="0.75" fill="#7a7a7a"/>
<rect x="202.6" y="102.3" width="0.75" height="0.75" fill="#7a7a7a"/>
<rect x="212.4" y="80.2" width="0.75" height="0.75" fill="#7a7a7a"/>
<rect x="201.1" y="95.3" width="0.75" height="0.75" fill="#7a7a7a"/>
<rect x="200.3" y="113.4" width="0.75" height="0.75" fill="#7a7a7a"/>
<rect x="203.0" y="85.2" width="0.75" height="0.75" fill="#7a7a7a"/>
<rect x="249.6" y="87.7" width="0.75" height="0.75" fill="#7a7a7a"/>
<rect x="214.5" y="114.7" width="0.75" height="0.75" fill="#7a7a7a"/>
<rect x="210.1" y="107.7" width="0.75" height="0.75" fill="#7a7a7a"/>
<rect x="207.6" y="117.6" width="0.75" height="0.75" fill="#7a7a7a"/>
<rect x="219.8" y="113.9" width="0.75" height="0.75" fill="#7a7a7a"/>
<rect x="208.7" y="84.2" width="0.75" height="0.75" fill="#7a7a7a"/>
<rect x="234.4" y="103.0" width="0.75" height="0.75" fill="#7a7a7a"/>
<rect x="190.9" y="82.4" width="0.75" height="0.75" fill="#7a7a7a"/>
<rect x="235.2" y="88.0" width="0.75" height="0.75" fill="#7a7a7a"/>
<rect x="187.6" y="85.8" width="0.75" height="0.75" fill="#7a7a7a"/>
<rect x="189.9" y="83.0" width="0.75" height="0.75" fill="#7a7a7a"/>
<rect x="178.2" y="86.4" width="0.75" height="0.75" fill="#7a7a7a"/>
<rect x="231.2" y="59.0" width="0.75" height="0.75" fill="#7a7a7a"/>
<rect x="223.9" y="93.5" width="0.75" height="0.75" fill="#7a7a7a"/>
<rect x="198.6" y="60.5" width="0.75" height="0.75" fill="#7a7a7a"/>
<rect x="194.8" y="111.4" width="0.75" height="0.75" fill="#7a7a7a"/>
<rect x="226.4" y="127.2" width="0.75" height="0.75" fill="#7a7a7a"/>
<rect x="198.8" y="84.9" width="0.75" height="0.75" fill="#7a7a7a"/>
<rect x="205.8" y="108.6" width="0.75" height="0.75" fill="#7a7a7a"/>
<rect x="177.7" y="73.3" width="0.75" height="0.75" fill="#7a7a7a"/>
<rect x="259.1" y="95.7" width="0.75" height="0.75" fill="#7a7a7a"/>
<rect x="227.9" y="119.8" width="0.75" height="0.75" fill="#7a7a7a"/>
<rect x="235.4" y="101.1" width="0.75" height="0.75" fill="#7a7a7a"/>
<rect x="229.2" y="116.9" width="0.75" height="0.75" fill="#7a7a7a"/>
<rect x="190.4" y="110.0" width="0.75" height="0.75" fill="#7a7a7a"/>
<rect x="185.5" y="98.7" width="0.75" height="0.75" fill="#7a7a7a"/>
<rect x="205.5" y="101.4" width="0.75" height="0.75" fill="#7a7a7a"/>
<rect x="201.9" y="85.1" width="0.75" height="0.75" fill="#7a7a7a"/>
<rect x="247.1" y="75.6" width="0.75" height="0.75" fill="#7a7a7a"/>
<rect x="210.6" y="91.4" width="0.75" height="0.75" fill="#7a7a7a"/>
<rect x="190.5" y="117.2" width="0.75" height="0.75" fill="#7a7a7a"/>
<rect x="213.8" y="90.6" width="0.75" height="0.75" fill="#7a7a7a"/>
<rect x="202.8" y="104.1" width="0.75" height="0.75" fill="#7a7a7a"/>
<rect x="204.4" y="76.3" width="0.75" height="0.75" fill="#7a7a7a"/>
<rect x="213.1" y="121.4" width="0.75" height="0.75" fill="#7a7a7a"/>
<rect x="199.1" y="92.3" width="0.75" height="0.75" fill="#7a7a7a"/>
<rect x="210.8" y="74.4" width="0.75" height="0.75" fill="#7a7a7a"/>
<rect x="230.8" y="130.3" width="0.75" height="0.75" fill="#7a7a7a"/>
<rect x="199.7" y="114.8" width="0.75" height="0.75" fill="#7a7a7a"/>
<rect x="238.5" y="80.7" width="0.75" height="0.75" fill="#7a7a7a"/>
<rect x="178.9" y="77.7" width="0.75" height="0.75" fill="#7a7a7a"/>
<rect x="211.0" y="111.5" width="0.75" height="0.75" fill="#7a7a7a"/>
<rect x="239.4" y="99.3" width="0.75" height="0.75" fill="#7a7a7a"/>
<rect x="208.3" y="75.2" width="0.75" height="0.75" fill="#7a7a7a"/>
<rect x="199.6" y="113.6" width="0.75" height="0.75" fill="#7a7a7a"/>
<rect x="221.4" y="98.3" width="0.75" height="0.75" fill="#7a7a7a"/>
<rect x="233.5" y="112.3" width="0.75" height="0.75" fill="#7a7a7a"/>
<rect x="184.9" y="74.7" width="0.75" height="0.75" fill="#7a7a7a"/>
<rect x="209.7" y="84.7" width="0.75" height="0.75" fill="#7a7a7a"/>
<rect x="198.7" y="122.1" width="0.75" height="0.75" fill="#7a7a7a"/>
<rect x="203.2" y="70.7" width="0.75" height="0.75" fill="#7a7a7a"/>
<rect x="208.7" y="90.6" width="0.75" height="0.75" fill="#7a7a7a"/>
<rect x="224.4" y="100.3" width="0.75" height="0.75" fill="#7a7a7a"/>
<rect x="194.9" y="73.4" width="0.75" height="0.75" fill="#7a7a7a"/>
<rect x="188.5" y="109.5" width="0.75" height="0.75" fill="#7a7a7a"/>
<rect x="188.7" y="79.8" width="0.75" height="0.75" fill="#7a7a7a"/>
<rect x="256.8" y="69.4" width="0.75" height="0.75" fill="#7a7a7a"/>
<rect x="234.8" y="126.4" width="0.75" height="0.75" fill="#7a7a7a"/>
<rect x="224.8" y="84.9" width="0.75" height="0.75" fill="#7a7a7a"/>
<rect x="233.7" y="92.1" width="0.75" height="0.75" fill="#7a7a7a"/>
<rect x="209.2" y="68.0" width="0.75" height="0.75" fill="#7a7a7a"/>
<rect x="182.7" y="79.0" width="0.75" height="0.75" fill="#7a7a7a"/>
<rect x="182.4" y="102.0" width="0.75" height="0.75" fill="#7a7a7a"/>
<rect x="220.7" y="104.8" width="0.75" height="0.75" fill="#7a7a7a"/>
<rect x="177.3" y="85.2" width="0.75" height="0.75" fill="#7a7a7a"/>
<rect x="190.2" y="65.4" width="0.75" height="0.75" fill="#7a7a7a"/>
<rect x="246.2" y="91.7" width="0.75" height="0.75" fill="#7a7a7a"/>
<rect x="209.6" y="79.1" width="0.75" height="0.75" fill="#7a7a7a"/>
<rect x="220.7" y="117.0" width="0.75" height="0.75" fill="#7a7a7a"/>
<rect x="200.9" y="76.4" width="0.75" height="0.75" fill="#7a7a7a"/>
<rect x="241.9" y="83.4" width="0.75" height="0.75" fill="#7a7a7a"/>
<rect x="201.4" y="94.9" width="0.75" height="0.75" fill="#7a7a7a"/>
<rect x="223.0" y="109.8" width="0.75" height="0.75" fill="#7a7a7a"/>
<rect x="195.0" y="60.8" width="0.75" height="0.75" fill="#7a7a7a"/>
<rect x="180.3" y="76.9" width="0.75" height="0.75" fill="#7a7a7a"/>
<rect x="202.2" y="79.3" width="0.75" height="0.75" fill="#7a7a7a"/>
<rect x="210.6" y="98.9" width="0.75" height="0.75" fill="#7a7a7a"/>
<rect x="185.1" y="91.0" width="0.75" height="0.75" fill="#7a7a7a"/>
<rect x="220.3" y="92.2" width="0.75" height="0.75" fill="#7a7a7a"/>
<rect x="245.9" y="107.8" width="0.75" height="0.75" fill="#7a7a7a"/>
<rect x="230.0" y="128.7" width="0.75" height="0.75" fill="#7a7a7a"/>
<rect x="191.1" y="116.5" width="0.75" height="0.75" fill="#7a7a7a"/>
<rect x="233.3" y="109.6" width="0.75" height="0.75" fill="#7a7a7a"/>
<rect x="239.8" y="113.2" width="0.75" height="0.75" fill="#7a7a7a"/>
<rect x="245.9" y="110.0" width="0.75" height="0.75" fill="#7a7a7a"/>
<rect x="196.8" y="65.0" width="0.75" height="0.75" fill="#7a7a7a"/>
<rect x="242.5" y="110.5" width="0.75" height="0.75" fill="#7a7a7a"/>
<rect x="234.7" y="102.7" width="0.75" height="0.75" fill="#7a7a7a"/>
<rect x="247.7" y="110.2" width="0.75" height="0.75" fill="#7a7a7a"/>
<rect x="189.9" y="128.6" width="0.75" height="0.75" fill="#7a7a7a"/>
<rect x="255.9" y="96.6" width="0.75" height="0.75" fill="#7a7a7a"/>
<rect x="205.6" y="59.3" width="0.75" height="0.75" fill="#7a7a7a"/>
<rect x="187.1" y="98.9" width="0.75" height="0.75" fill="#7a7a7a"/>
<rect x="206.7" y="78.7" width="0.75" height="0.75" fill="#7a7a7a"/>
<rect x="186.3" y="93.2" width="0.75" height="0.75" fill="#7a7a7a"/>
<rect x="191.0" y="75.5" width="0.75" height="0.75" fill="#7a7a7a"/>
<rect x="226.5" y="108.5" width="0.75" height="0.75" fill="#7a7a7a"/>
<rect x="213.9" y="105.9" width="0.75" height="0.75" fill="#7a7a7a"/>
<rect x="199.9" y="111.7" width="0.75" height="0.75" fill="#7a7a7a"/>
<rect x="203.4" y="122.3" width="0.75" height="0.75" fill="#7a7a7a"/>
<rect x="211.2" y="126.9" width="0.75" height="0.75" fill="#7a7a7a"/>
<rect x="204.4" y="91.0" width="0.75" height="0.75" fill="#7a7a7a"/>
<rect x="215.9" y="83.3" width="0.75" height="0.75" fill="#7a7a7a"/>
<rect x="231.0" y="94.5" width="0.75" height="0.75" fill="#7a7a7a"/>
<rect x="217.6" y="82.7" width="0.75" height="0.75" fill="#7a7a7a"/>
<rect x="191.3" y="117.0" width="0.75" height="0.75" fill="#7a7a7a"/>
<rect x="210.1" y="120.0" width="0.75" height="0.75" fill="#7a7a7a"/>
<rect x="176.9" y="59.7" width="0.75" height="0.75" fill="#7a7a7a"/>
<rect x="222.2" y="94.6" width="0.75" height="0.75" fill="#7a7a7a"/>
<rect x="205.7" y="85.3" width="0.75" height="0.75" fill="#7a7a7a"/>
<rect x="213.8" y="111.9" width="0.75" height="0.75" fill="#7a7a7a"/>
<rect x="185.5" y="72.8" width="0.75" height="0.75" fill="#7a7a7a"/>
<rect x="196.6" y="115.1" width="0.75" height="0.75" fill="#7a7a7a"/>
<rect x="237.6" y="113.2" width="0.75" height="0.75" fill="#7a7a7a"/>
<rect x="185.2" y="76.6" width="0.75" height="0.75" fill="#7a7a7a"/>
<rect x="189.3" y="75.2" width="0.75" height="0.75" fill="#7a7a7a"/>
<rect x="207.3" y="80.8" width="0.75" height="0.75" fill="#7a7a7a"/>
<rect x="213.1" y="92.9" width="0.75" height="0.75" fill="#7a7a7a"/>
<rect x="232.3" y="85.7" width="0.75" height="0.75" fill="#7a7a7a"/>
<rect x="216.2" y="85.1" width="0.75" height="0.75" fill="#7a7a7a"/>
<rect x="217.0" y="121.3" width="0.75" height="0.75" fill="#7a7a7a"/>
<rect x="247.5" y="96.2" width="0.75" height="0.75" fill="#7a7a7a"/>
<rect x="202.0" y="82.1" width="0.75" height="0.75" fill="#7a7a7a"/>
<rect x="220.0" y="110.7" width="0.75" height="0.75" fill="#7a7a7a"/>
<rect x="199.3" y="82.3" width="0.75" height="0.75" fill="#7a7a7a"/>
<rect x="234.7" y="102.2" width="0.75" height="0.75" fill="#7a7a7a"/>
<rect x="187.9" y="75.8" width="0.75" height="0.75" fill="#7a7a7a"/>
<rect x="231.1" y="97.0" width="0.75" height="0.75" fill="#7a7a7a"/>
<rect x="197.8" y="87.3" width="0.75" height="0.75" fill="#7a7a7a"/>
<rect x="232.4" y="108.9" width="0.75" height="0.75" fill="#7a7a7a"/>
<rect x="210.1" y="68.9" width="0.75" height="0.75" fill="#7a7a7a"/>
<rect x="227.3" y="89.7" width="0.75" height="0.75" fill="#7a7a7a"/>
<rect x="205.9" y="88.9" width="0.75" height="0.75" fill="#7a7a7a"/>
<rect x="188.8" y="99.7" width="0.75" height="0.75" fill="#7a7a7a"/>
<rect x="203.1" y="103.3" width="0.75" height="0.75" fill="#7a7a7a"/>
<rect x="186.9" y="80.1" width="0.75" height="0.75" fill="#7a7a7a"/>
<rect x="189.8" y="114.0" width="0.75" height="0.75" fill="#7a7a7a"/>
<rect x="236.9" y="102.9" width="0.75" height="0.75" fill="#7a7a7a"/>
<rect x="177.1" y="75.3" width="0.75" height="0.75" fill="#7a7a7a"/>
<rect x="197.9" y="57.6" width="0.75" height="0.75" fill="#7a7a7a"/>
<rect x="188.3" y="131.4" width="0.75" height="0.75" fill="#7a7a7a"/>
<rect x="200.8" y="108.0" width="0.75" height="0.75" fill="#7a7a7a"/>
<rect x="221.2" y="85.6" width="0.75" height="0.75" fill="#7a7a7a"/>
<rect x="209.8" y="118.1" width="0.75" height="0.75" fill="#7a7a7a"/>
<rect x="201.4" y="107.5" width="0.75" height="0.75" fill="#7a7a7a"/>
<rect x="189.8" y="111.7" width="0.75" height="0.75" fill="#7a7a7a"/>
<rect x="195.5" y="80.9" width="0.75" height="0.75" fill="#7a7a7a"/>
<rect x="186.4" y="58.0" width="0.75" height="0.75" fill="#7a7a7a"/>
<rect x="209.0" y="79.6" width="0.75" height="0.75" fill="#7a7a7a"/>
<rect x="202.4" y="84.6" width="0.75" height="0.75" fill="#7a7a7a"/>
<rect x="187.8" y="104.6" width="0.75" height="0.75" fill="#7a7a7a"/>
<rect x="205.8" y="119.8" width="0.75" height="0.75" fill="#7a7a7a"/>
<rect x="237.9" y="81.4" width="0.75" height="0.75" fill="#7a7a7a"/>
<rect x="180.7" y="120.2" width="0.75" height="0.75" fill="#7a7a7a"/>
<rect x="244.0" y="63.9" width="0.75" height="0.75" fill="#7a7a7a"/>
<rect x="201.4" y="85.9" width="0.75" height="0.75" fill="#7a7a7a"/>
<rect x="234.5" y="102.9" width="0.75" height="0.75" fill="#7a7a7a"/>
<rect x="221.5" y="77.3" width="0.75" height="0.75" fill="#7a7a7a"/>
<rect x="215.5" y="94.7" width="0.75" height="0.75" fill="#7a7a7a"/>
<rect x="193.7" y="94.5" width="0.75" height="0.75" fill="#7a7a7a"/>
<rect x="198.6" y="93.0" width="0.75" height="0.75" fill="#7a7a7a"/>
<rect x="191.2" y="120.8" width="0.75" height="0.75" fill="#7a7a7a"/>
<rect x="212.3" y="119.0" width="0.75" height="0.75" fill="#7a7a7a"/>
<rect x="241.2" y="107.8" width="0.75" height="0.75" fill="#7a7a7a"/>
<rect x="229.7" y="92.2" width="0.75" height="0.75" fill="#7a7a7a"/>
<rect x="190.6" y="113.5" width="0.75" height="0.75" fill="#7a7a7a"/>
<rect x="182.5" y="116.7" width="0.75" height="0.75" fill="#7a7a7a"/>
<rect x="207.1" y="84.1" width="0.75" height="0.75" fill="#7a7a7a"/>
<rect x="196.7" y="114.9" width="0.75" height="0.75" fill="#7a7a7a"/>
<rect x="204.8" y="106.3" width="0.75" height="0.75" fill="#7a7a7a"/>
<rect x="187.9" y="84.3" width="0.75" height="0.75" fill="#7a7a7a"/>
<rect x="194.8" y="125.8" width="0.75" height="0.75" fill="#7a7a7a"/>
<rect x="203.1" y="100.6" width="0.75" height="0.75" fill="#7a7a7a"/>
<rect x="242.3" y="117.7" width="0.75" height="0.75" fill="#7a7a7a"/>
<rect x="203.4" y="67.5" width="0.75" height="0.75" fill="#7a7a7a"/>
<rect x="190.8" y="108.9" width="0.75" height="0.75" fill="#7a7a7a"/>
<rect x="206.4" y="123.1" width="0.75" height="0.75" fill="#7a7a7a"/>
<rect x="201.1" y="82.4" width="0.75" height="0.75" fill="#7a7a7a"/>
<rect x="196.9" y="107.6" width="0.75" height="0.75" fill="#7a7a7a"/>
<rect x="208.4" y="125.0" width="0.75" height="0.75" fill="#7a7a7a"/>
<rect x="184.7" y="87.3" width="0.75" height="0.75" fill="#7a7a7a"/>
<rect x="196.2" y="102.0" width="0.75" height="0.75" fill="#7a7a7a"/>
<rect x="195.8" y="89.7" width="0.75" height="0.75" fill="#7a7a7a"/>
<rect x="223.7" y="110.9" width="0.75" height="0.75" fill="#7a7a7a"/>
<rect x="179.8" y="91.1" width="0.75" height="0.75" fill="#7a7a7a"/>
<rect x="238.2" y="116.1" width="0.75" height="0.75" fill="#7a7a7a"/>
<rect x="193.1" y="70.2" width="0.75" height="0.75" fill="#7a7a7a"/>
<rect x="192.3" y="63.7" width="0.75" height="0.75" fill="#7a7a7a"/>
<rect x="204.0" y="90.9" width="0.75" height="0.75" fill="#7a7a7a"/>
<rect x="192.0" y="83.1" width="0.75" height="0.75" fill="#7a7a7a"/>
<rect x="211.1" y="111.8" width="0.75" height="0.75" fill="#7a7a7a"/>
<rect x="212.4" y="128.8" width="0.75" height="0.75" fill="#7a7a7a"/>
<rect x="195.1" y="105.4" width="0.75" height="0.75" fill="#7a7a7a"/>
<rect x="195.3" y="80.0" width="0.75" height="0.75" fill="#7a7a7a"/>
<rect x="196.6" y="85.9" width="0.75" height="0.75" fill="#7a7a7a"/>
<rect x="233.1" y="84.2" width="0.75" height="0.75" fill="#7a7a7a"/>
<rect x="218.2" y="93.5" width="0.75" height="0.75" fill="#7a7a7a"/>
<rect x="189.3" y="77.2" width="0.75" height="0.75" fill="#7a7a7a"/>
<rect x="203.1" y="109.8" width="0.75" height="0.75" fill="#7a7a7a"/>
<rect x="227.9" y="90.4" width="0.75" height="0.75" fill="#7a7a7a"/>
<rect x="194.7" y="61.7" width="0.75" height="0.75" fill="#7a7a7a"/>
<rect x="191.2" y="98.3" width="0.75" height="0.75" fill="#7a7a7a"/>
<rect x="190.5" y="107.3" width="0.75" height="0.75" fill="#7a7a7a"/>
<rect x="195.2" y="80.4" width="0.75" height="0.75" fill="#7a7a7a"/>
<rect x="232.2" y="83.3" width="0.75" height="0.75" fill="#7a7a7a"/>
<rect x="228.0" y="119.7" width="0.75" height="0.75" fill="#7a7a7a"/>
<rect x="218.4" y="95.1" width="0.75" height="0.75" fill="#7a7a7a"/>
<rect x="200.6" y="112.6" width="0.75" height="0.75" fill="#7a7a7a"/>
<rect x="197.4" y="106.2" width="0.75" height="0.75" fill="#7a7a7a"/>
<rect x="231.6" y="104.4" width="0.75" height="0.75" fill="#7a7a7a"/>
<rect x="240.1" y="125.7" width="0.75" height="0.75" fill="#7a7a7a"/>
<rect x="213.4" y="63.5" width="0.75" height="0.75" fill="#7a7a7a"/>
<rect x="208.0" y="99.3" width="0.75" height="0.75" fill="#7a7a7a"/>
<rect x="212.3" y="84.8" width="0.75" height="0.75" fill="#7a7a7a"/>
<rect x="201.3" y="123.2" width="0.75" height="0.75" fill="#7a7a7a"/>
<rect x="194.2" y="73.9" width="0.75" height="0.75" fill="#7a7a7a"/>
<rect x="237.8" y="108.9" width="0.75" height="0.75" fill="#7a7a7a"/>
<rect x="241.5" y="106.2" width="0.75" height="0.75" fill="#7a7a7a"/>
<rect x="224.1" y="92.6" width="0.75" height="0.75" fill="#7a7a7a"/>
<rect x="202.2" y="101.9" width="0.75" height="0.75" fill="#7a7a7a"/>
<rect x="213.9" y="72.2" width="0.75" height="0.75" fill="#7a7a7a"/>
<rect x="204.2" y="71.7" width="0.75" height="0.75" fill="#7a7a7a"/>
<rect x="202.6" y="64.2" width="0.75" height="0.75" fill="#7a7a7a"/>
<rect x="211.6" y="108.5" width="0.75" height="0.75" fill="#7a7a7a"/>
<rect x="209.9" y="81.7" width="0.75" height="0.75" fill="#7a7a7a"/>
<rect x="238.0" y="81.6" width="0.75" height="0.75" fill="#7a7a7a"/>
<rect x="223.5" y="122.0" width="0.75" height="0.75" fill="#7a7a7a"/>
<rect x="204.6" y="75.1" width="0.75" height="0.75" fill="#7a7a7a"/>
<rect x="195.3" y="83.8" width="0.75" height="0.75" fill="#7a7a7a"/>
<rect x="192.1" y="87.2" width="0.75" height="0.75" fill="#7a7a7a"/>
<rect x="197.3" y="75.2" width="0.75" height="0.75" fill="#7a7a7a"/>
<rect x="194.6" y="95.9" width="0.75" height="0.75" fill="#7a7a7a"/>
<rect x="215.6" y="89.4" width="0.75" height="0.75" fill="#7a7a7a"/>
<rect x="251.0" y="93.1" width="0.75" height="0.75" fill="#7a7a7a"/>
<rect x="211.3" y="62.9" width="0.75" height="0.75" fill="#7a7a7a"/>
<rect x="205.6" y="128.1" width="0.75" height="0.75" fill="#7a7a7a"/>
<rect x="230.0" y="105.2" width="0.75" height="0.75" fill="#7a7a7a"/>
<rect x="223.2" y="74.5" width="0.75" height="0.75" fill="#7a7a7a"/>
<rect x="204.5" y="90.3" width="0.75" height="0.75" fill="#7a7a7a"/>
<rect x="193.4" y="119.3" width="0.75" height="0.75" fill="#7a7a7a"/>
<rect x="233.0" y="68.4" width="0.75" height="0.75" fill="#7a7a7a"/>
<rect x="219.8" y="113.8" width="0.75" height="0.75" fill="#7a7a7a"/>
<rect x="207.1" y="105.2" width="0.75" height="0.75" fill="#7a7a7a"/>
<rect x="190.2" y="107.3" width="0.75" height="0.75" fill="#7a7a7a"/>
<rect x="227.3" y="90.0" width="0.75" height="0.75" fill="#7a7a7a"/>
<rect x="216.0" y="75.6" width="0.75" height="0.75" fill="#7a7a7a"/>
<rect x="208.0" y="93.8" width="0.75" height="0.75" fill="#7a7a7a"/>
<rect x="192.4" y="85.3" width="0.75" height="0.75" fill="#7a7a7a"/>
<rect x="211.8" y="105.2" width="0.75" height="0.75" fill="#7a7a7a"/>
<rect x="176.5" y="118.2" width="0.75" height="0.75" fill="#7a7a7a"/>
<rect x="210.2" y="97.1" width="0.75" height="0.75" fill="#7a7a7a"/>
<rect x="203.0" y="87.0" width="0.75" height="0.75" fill="#7a7a7a"/>
<rect x="181.4" y="103.1" width="0.75" height="0.75" fill="#7a7a7a"/>
<rect x="245.5" y="108.4" width="0.75" height="0.75" fill="#7a7a7a"/>
<rect x="202.5" y="111.6" width="0.75" height="0.75" fill="#7a7a7a"/>
<rect x="212.8" y="91.9" width="0.75" height="0.75" fill="#7a7a7a"/>
<rect x="178.4" y="109.1" width="0.75" height="0.75" fill="#7a7a7a"/>
<rect x="214.3" y="128.6" width="0.75" height="0.75" fill="#7a7a7a"/>
<rect x="212.3" y="107.7" width="0.75" height="0.75" fill="#7a7a7a"/>
<rect x="198.1" y="124.3" width="0.75" height="0.75" fill="#7a7a7a"/>
<rect x="205.0" y="96.3" width="0.75" height="0.75" fill="#7a7a7a"/>
<rect x="204.7" y="74.1" width="0.75" height="0.75" fill="#7a7a7a"/>
<rect x="225.9" y="121.5" width="0.75" height="0.75" fill="#7a7a7a"/>
<rect x="223.1" y="114.6" width="0.75" height="0.75" fill="#7a7a7a"/>
<rect x="194.9" y="92.5" width="0.75" height="0.75" fill="#7a7a7a"/>
<rect x="212.9" y="86.6" width="0.75" height="0.75" fill="#7a7a7a"/>
<rect x="194.7" y="61.4" width="0.75" height="0.75" fill="#7a7a7a"/>
<rect x="238.5" y="108.6" width="0.75" height="0.75" fill="#7a7a7a"/>
<rect x="209.0" y="107.1" width="0.75" height="0.75" fill="#7a7a7a"/>
<rect x="215.5" y="84.3" width="0.75" height="0.75" fill="#7a7a7a"/>
<rect x="220.0" y="101.6" width="0.75" height="0.75" fill="#7a7a7a"/>
<rect x="222.2" y="87.2" width="0.75" height="0.75" fill="#7a7a7a"/>
<rect x="198.8" y="128.0" width="0.75" height="0.75" fill="#7a7a7a"/>
<rect x="228.5" y="98.5" width="0.75" height="0.75" fill="#7a7a7a"/>
<rect x="219.2" y="88.4" width="0.75" height="0.75" fill="#7a7a7a"/>
<rect x="223.2" y="83.3" width="0.75" height="0.75" fill="#7a7a7a"/>
<rect x="232.6" y="97.6" width="0.75" height="0.75" fill="#7a7a7a"/>
<rect x="195.0" y="94.9" width="0.75" height="0.75" fill="#7a7a7a"/>
<rect x="183.4" y="90.7" width="0.75" height="0.75" fill="#7a7a7a"/>
<rect x="179.9" y="98.0" width="0.75" height="0.75" fill="#7a7a7a"/>
<rect x="215.1" y="97.6" width="0.75" height="0.75" fill="#7a7a7a"/>
<rect x="240.3" y="97.5" width="0.75" height="0.75" fill="#7a7a7a"/>
<rect x="186.8" y="93.6" width="0.75" height="0.75" fill="#7a7a7a"/>
<rect x="246.6" y="91.2" width="0.75" height="0.75" fill="#7a7a7a"/>
<rect x="243.0" y="117.0" width="0.75" height="0.75" fill="#7a7a7a"/>
<rect x="200.2" y="85.6" width="0.75" height="0.75" fill="#7a7a7a"/>
<rect x="196.5" y="78.9" width="0.75" height="0.75" fill="#7a7a7a"/>
<rect x="182.3" y="120.3" width="0.75" height="0.75" fill="#7a7a7a"/>
<rect x="218.0" y="86.0" width="0.75" height="0.75" fill="#7a7a7a"/>
<rect x="198.2" y="77.0" width="0.75" height="0.75" fill="#7a7a7a"/>
<rect x="201.9" y="66.8" width="0.75" height="0.75" fill="#7a7a7a"/>
<rect x="228.5" y="62.2" width="0.75" height="0.75" fill="#7a7a7a"/>
<rect x="224.3" y="90.0" width="0.75" height="0.75" fill="#7a7a7a"/>
<rect x="194.3" y="127.4" width="0.75" height="0.75" fill="#7a7a7a"/>
<rect x="197.4" y="115.1" width="0.75" height="0.75" fill="#7a7a7a"/>
<rect x="197.3" y="111.7" width="0.75" height="0.75" fill="#7a7a7a"/>
<rect x="198.1" y="77.4" width="0.75" height="0.75" fill="#7a7a7a"/>
<rect x="211.0" y="60.4" width="0.75" height="0.75" fill="#7a7a7a"/>
<rect x="215.5" y="98.2" width="0.75" height="0.75" fill="#7a7a7a"/>
<rect x="204.8" y="127.7" width="0.75" height="0.75" fill="#7a7a7a"/>
<rect x="216.8" y="89.4" width="0.75" height="0.75" fill="#7a7a7a"/>
<rect x="210.8" y="121.2" width="0.75" height="0.75" fill="#7a7a7a"/>
<rect x="232.5" y="97.9" width="0.75" height="0.75" fill="#7a7a7a"/>
<rect x="229.1" y="95.0" width="0.75" height="0.75" fill="#7a7a7a"/>
<rect x="199.4" y="107.9" width="0.75" height="0.75" fill="#7a7a7a"/>
<rect x="252.3" y="101.3" width="0.75" height="0.75" fill="#7a7a7a"/>
<rect x="223.1" y="118.8" width="0.75" height="0.75" fill="#7a7a7a"/>
<rect x="203.1" y="106.7" width="0.75" height="0.75" fill="#7a7a7a"/>
<rect x="246.7" y="89.6" width="0.75" height="0.75" fill="#7a7a7a"/>
<rect x="208.4" y="84.1" width="0.75" height="0.75" fill="#7a7a7a"/>
<rect x="207.5" y="91.7" width="0.75" height="0.75" fill="#7a7a7a"/>
<rect x="179.0" y="117.7" width="0.75" height="0.75" fill="#7a7a7a"/>
<rect x="238.4" y="98.3" width="0.75" height="0.75" fill="#7a7a7a"/>
<rect x="211.9" y="67.9" width="0.75" height="0.75" fill="#7a7a7a"/>
<rect x="202.3" y="110.7" width="0.75" height="0.75" fill="#7a7a7a"/>
<rect x="178.8" y="77.5" width="0.75" height="0.75" fill="#7a7a7a"/>
<rect x="199.0" y="58.5" width="0.75" height="0.75" fill="#7a7a7a"/>
<rect x="184.9" y="73.7" width="0.75" height="0.75" fill="#7a7a7a"/>
<rect x="230.7" y="115.3" width="0.75" height="0.75" fill="#7a7a7a"/>
<rect x="198.3" y="105.4" width="0.75" height="0.75" fill="#7a7a7a"/>
<rect x="206.2" y="66.3" width="0.75" height="0.75" fill="#7a7a7a"/>
<rect x="176.6" y="72.8" width="0.75" height="0.75" fill="#7a7a7a"/>
<rect x="213.6" y="91.3" width="0.75" height="0.75" fill="#7a7a7a"/>
<rect x="231.2" y="113.5" width="0.75" height="0.75" fill="#7a7a7a"/>
<rect x="195.6" y="74.0" width="0.75" height="0.75" fill="#7a7a7a"/>
<rect x="215.2" y="114.7" width="0.75" height="0.75" fill="#7a7a7a"/>
<rect x="238.5" y="94.4" width="0.75" height="0.75" fill="#7a7a7a"/>
<rect x="242.5" y="117.3" width="0.75" height="0.75" fill="#7a7a7a"/>
<rect x="202.0" y="125.1" width="0.75" height="0.75" fill="#7a7a7a"/>
<rect x="196.6" y="83.7" width="0.75" height="0.75" fill="#7a7a7a"/>
<rect x="223.0" y="82.7" width="0.75" height="0.75" fill="#7a7a7a"/>
<rect x="218.8" y="100.5" width="0.75" height="0.75" fill="#7a7a7a"/>
<rect x="178.7" y="124.8" width="0.75" height="0.75" fill="#7a7a7a"/>
<rect x="204.6" y="94.0" width="0.75" height="0.75" fill="#7a7a7a"/>
<rect x="206.8" y="85.7" width="0.75" height="0.75" fill="#7a7a7a"/>
<rect x="202.4" y="85.8" width="0.75" height="0.75" fill="#7a7a7a"/>
<rect x="237.9" y="93.7" width="0.75" height="0.75" fill="#7a7a7a"/>
<rect x="241.5" y="60.7" width="0.75" height="0.75" fill="#7a7a7a"/>
<rect x="222.7" y="109.3" width="0.75" height="0.75" fill="#7a7a7a"/>
<rect x="194.5" y="97.8" width="0.75" height="0.75" fill="#7a7a7a"/>
<rect x="246.6" y="99.4" width="0.75" height="0.75" fill="#7a7a7a"/>
<rect x="220.7" y="107.6" width="0.75" height="0.75" fill="#7a7a7a"/>
<rect x="247.4" y="72.4" width="0.75" height="0.75" fill="#7a7a7a"/>
<rect x="198.6" y="94.2" width="0.75" height="0.75" fill="#7a7a7a"/>
<rect x="241.1" y="118.0" width="0.75" height="0.75" fill="#7a7a7a"/>
<rect x="203.3" y="67.2" width="0.75" height="0.75" fill="#7a7a7a"/>
<rect x="232.4" y="104.6" width="0.75" height="0.75" fill="#7a7a7a"/>
<rect x="199.9" y="58.0" width="0.75" height="0.75" fill="#7a7a7a"/>
<rect x="192.8" y="126.5" width="0.75" height="0.75" fill="#7a7a7a"/>
<rect x="201.6" y="119.9" width="0.75" height="0.75" fill="#7a7a7a"/>
<rect x="208.8" y="92.9" width="0.75" height="0.75" fill="#7a7a7a"/>
<rect x="199.5" y="90.1" width="0.75" height="0.75" fill="#7a7a7a"/>
<rect x="208.7" y="116.1" width="0.75" height="0.75" fill="#7a7a7a"/>
<rect x="225.8" y="89.7" width="0.75" height="0.75" fill="#7a7a7a"/>
<rect x="221.0" y="75.1" width="0.75" height="0.75" fill="#7a7a7a"/>
<rect x="186.1" y="89.1" width="0.75" height="0.75" fill="#7a7a7a"/>
<rect x="219.8" y="74.9" width="0.75" height="0.75" fill="#7a7a7a"/>
<rect x="216.7" y="108.8" width="0.75" height="0.75" fill="#7a7a7a"/>
<rect x="210.4" y="102.5" width="0.75" height="0.75" fill="#7a7a7a"/>
<rect x="199.7" y="87.7" width="0.75" height="0.75" fill="#7a7a7a"/>
<rect x="191.8" y="113.3" width="0.75" height="0.75" fill="#7a7a7a"/>
<rect x="195.2" y="86.5" width="0.75" height="0.75" fill="#7a7a7a"/>
<rect x="196.0" y="104.9" width="0.75" height="0.75" fill="#7a7a7a"/>
<rect x="205.9" y="95.1" width="0.75" height="0.75" fill="#7a7a7a"/>
<rect x="203.8" y="80.9" width="0.75" height="0.75" fill="#7a7a7a"/>
<rect x="180.1" y="122.2" width="0.75" height="0.75" fill="#7a7a7a"/>
<rect x="198.2" y="125.0" width="0.75" height="0.75" fill="#7a7a7a"/>
<rect x="198.6" y="91.4" width="0.75" height="0.75" fill="#7a7a7a"/>
<rect x="183.0" y="77.4" width="0.75" height="0.75" fill="#7a7a7a"/>
<rect x="180.1" y="109.8" width="0.75" height="0.75" fill="#7a7a7a"/>
<rect x="201.1" y="83.7" width="0.75" height="0.75" fill="#7a7a7a"/>
<rect x="200.5" y="66.4" width="0.75" height="0.75" fill="#7a7a7a"/>
<rect x="206.3" y="72.3" width="0.75" height="0.75" fill="#7a7a7a"/>
<rect x="174.7" y="93.6" width="0.75" height="0.75" fill="#7a7a7a"/>
<rect x="193.1" y="81.4" width="0.75" height="0.75" fill="#7a7a7a"/>
<rect x="201.4" y="66.8" width="0.75" height="0.75" fill="#7a7a7a"/>
<rect x="203.5" y="86.2" width="0.75" height="0.75" fill="#7a7a7a"/>
<rect x="217.6" y="105.3" width="0.75" height="0.75" fill="#7a7a7a"/>
<rect x="184.7" y="72.8" width="0.75" height="0.75" fill="#7a7a7a"/>
<rect x="218.0" y="71.0" width="0.75" height="0.75" fill="#7a7a7a"/>
<rect x="197.7" y="72.8" width="0.75" height="0.75" fill="#7a7a7a"/>
<rect x="209.7" y="120.6" width="0.75" height="0.75" fill="#7a7a7a"/>
<rect x="212.1" y="65.6" width="0.75" height="0.75" fill="#7a7a7a"/>
<rect x="256.4" y="108.0" width="0.75" height="0.75" fill="#7a7a7a"/>
<rect x="235.1" y="97.1" width="0.75" height="0.75" fill="#7a7a7a"/>
<rect x="204.6" y="74.8" width="0.75" height="0.75" fill="#7a7a7a"/>
<rect x="187.9" y="94.7" width="0.75" height="0.75" fill="#7a7a7a"/>
<rect x="186.1" y="82.5" width="0.75" height="0.75" fill="#7a7a7a"/>
<rect x="242.9" y="120.3" width="0.75" height="0.75" fill="#7a7a7a"/>
<rect x="238.3" y="79.8" width="0.75" height="0.75" fill="#7a7a7a"/>
<rect x="186.2" y="125.2" width="0.75" height="0.75" fill="#7a7a7a"/>
<rect x="219.8" y="64.4" width="0.75" height="0.75" fill="#7a7a7a"/>
<rect x="212.1" y="103.6" width="0.75" height="0.75" fill="#7a7a7a"/>
<rect x="261.7" y="109.7" width="0.75" height="0.75" fill="#7a7a7a"/>
<rect x="201.3" y="88.7" width="0.75" height="0.75" fill="#7a7a7a"/>
<rect x="200.2" y="81.5" width="0.75" height="0.75" fill="#7a7a7a"/>
<rect x="196.5" y="77.1" width="0.75" height="0.75" fill="#7a7a7a"/>
<rect x="186.2" y="75.6" width="0.75" height="0.75" fill="#7a7a7a"/>
<rect x="226.2" y="98.8" width="0.75" height="0.75" fill="#7a7a7a"/>
<rect x="227.6" y="59.3" width="0.75" height="0.75" fill="#7a7a7a"/>
<rect x="184.9" y="84.5" width="0.75" height="0.75" fill="#7a7a7a"/>
<defs><radialGradient id="cg1" cx="0.500" cy="0.429" r="0.62" fx="0.500" fy="0.429"><stop offset="0" stop-color="#fff"/><stop offset="0.2" stop-color="#f4f4f4"/><stop offset="0.55" stop-color="#dcdcdc"/><stop offset="0.8" stop-color="#cccccc"/><stop offset="0.92" stop-color="#a8a8a8"/><stop offset="1" stop-color="#9a9a9a"/></radialGradient></defs>
<path d="M198.84,66.94 C202.58,66.57 207.13,67.22 210.04,69.18 C212.96,71.14 215.76,75.25 216.32,78.70 C216.88,82.15 215.57,86.99 213.40,89.90 C211.24,92.81 207.06,95.61 203.32,96.17 C199.59,96.73 194.18,95.43 191.00,93.26 C187.83,91.09 184.84,86.82 184.28,83.18 C183.72,79.54 185.22,74.13 187.64,71.42 C190.07,68.71 195.11,67.31 198.84,66.94 Z" fill="#e6e6e6" stroke="none"/>
<path d="M199.00,68.50 C202.33,68.17 206.40,68.75 209.00,70.50 C211.60,72.25 214.10,75.92 214.60,79.00 C215.10,82.08 213.93,86.40 212.00,89.00 C210.07,91.60 206.33,94.10 203.00,94.60 C199.67,95.10 194.83,93.93 192.00,92.00 C189.17,90.07 186.50,86.25 186.00,83.00 C185.50,79.75 186.83,74.92 189.00,72.50 C191.17,70.08 195.67,68.83 199.00,68.50 Z" fill="url(#cg1)" stroke="none"/>
<path d="M199.00,68.50 C202.33,68.17 206.40,68.75 209.00,70.50 C211.60,72.25 214.10,75.92 214.60,79.00 C215.10,82.08 213.93,86.40 212.00,89.00 C210.07,91.60 206.33,94.10 203.00,94.60 C199.67,95.10 194.83,93.93 192.00,92.00 C189.17,90.07 186.50,86.25 186.00,83.00 C185.50,79.75 186.83,74.92 189.00,72.50 C191.17,70.08 195.67,68.83 199.00,68.50 Z" fill="none" stroke="#777" stroke-width="0.6"/>
<path d="M199.06,69.06 C202.23,68.74 206.09,69.30 208.56,70.96 C211.03,72.62 213.41,76.11 213.89,79.03 C214.36,81.96 213.25,86.06 211.42,88.53 C209.58,91.00 206.03,93.38 202.87,93.85 C199.70,94.33 195.11,93.22 192.42,91.38 C189.72,89.55 187.19,85.92 186.72,82.83 C186.24,79.75 187.51,75.16 189.56,72.86 C191.62,70.56 195.90,69.38 199.06,69.06 Z" fill="none" stroke="#444" stroke-width="0.6"/>
<path d="M199.13,69.62 C202.13,69.32 205.79,69.84 208.13,71.42 C210.47,72.99 212.72,76.29 213.17,79.07 C213.62,81.84 212.57,85.73 210.83,88.07 C209.09,90.41 205.73,92.66 202.73,93.11 C199.73,93.56 195.38,92.51 192.83,90.77 C190.28,89.03 187.88,85.59 187.43,82.67 C186.98,79.74 188.18,75.39 190.13,73.22 C192.08,71.05 196.13,69.92 199.13,69.62 Z" fill="none" stroke="#3a3a3a" stroke-width="0.6"/>
<path d="M199.20,70.18 C202.03,69.90 205.49,70.39 207.70,71.88 C209.91,73.37 212.03,76.48 212.46,79.11 C212.88,81.73 211.89,85.40 210.25,87.61 C208.60,89.81 205.43,91.94 202.59,92.37 C199.76,92.79 195.65,91.80 193.25,90.16 C190.84,88.51 188.57,85.27 188.15,82.51 C187.72,79.74 188.85,75.63 190.70,73.58 C192.54,71.53 196.36,70.46 199.20,70.18 Z" fill="none" stroke="#555" stroke-width="0.6"/>
<path d="M199.31,71.19 C201.85,70.93 204.94,71.38 206.91,72.71 C208.89,74.04 210.79,76.82 211.17,79.17 C211.55,81.51 210.66,84.79 209.19,86.77 C207.72,88.74 204.89,90.64 202.35,91.02 C199.82,91.40 196.15,90.52 193.99,89.05 C191.84,87.58 189.81,84.68 189.43,82.21 C189.05,79.74 190.07,76.06 191.71,74.23 C193.36,72.39 196.78,71.44 199.31,71.19 Z" fill="none" stroke="#6a6a6a" stroke-width="0.6"/>
<path d="M199.43,72.20 C201.66,71.97 204.39,72.36 206.13,73.54 C207.87,74.71 209.55,77.17 209.88,79.23 C210.22,81.30 209.43,84.19 208.14,85.93 C206.84,87.67 204.34,89.35 202.11,89.68 C199.88,90.02 196.64,89.24 194.74,87.94 C192.84,86.65 191.05,84.09 190.72,81.91 C190.38,79.73 191.28,76.50 192.73,74.88 C194.18,73.26 197.20,72.42 199.43,72.20 Z" fill="none" stroke="#747474" stroke-width="0.6"/>
<path d="M199.55,73.20 C201.48,73.01 203.84,73.35 205.35,74.36 C206.85,75.38 208.30,77.51 208.59,79.29 C208.88,81.08 208.21,83.59 207.09,85.09 C205.96,86.60 203.80,88.05 201.87,88.34 C199.93,88.63 197.13,87.96 195.49,86.83 C193.84,85.71 192.30,83.50 192.01,81.61 C191.72,79.73 192.49,76.93 193.75,75.52 C195.00,74.12 197.61,73.40 199.55,73.20 Z" fill="none" stroke="#7e7e7e" stroke-width="0.6"/>
<path d="M199.66,74.21 C201.30,74.05 203.29,74.33 204.56,75.19 C205.84,76.05 207.06,77.85 207.31,79.36 C207.55,80.87 206.98,82.98 206.03,84.26 C205.09,85.53 203.26,86.76 201.62,87.00 C199.99,87.25 197.62,86.67 196.23,85.73 C194.84,84.78 193.54,82.91 193.29,81.32 C193.05,79.72 193.70,77.36 194.76,76.17 C195.82,74.99 198.03,74.38 199.66,74.21 Z" fill="none" stroke="#888" stroke-width="0.6"/>
<path d="M199.78,75.22 C201.11,75.09 202.74,75.32 203.78,76.02 C204.82,76.72 205.82,78.19 206.02,79.42 C206.22,80.65 205.75,82.38 204.98,83.42 C204.21,84.46 202.71,85.46 201.38,85.66 C200.05,85.86 198.11,85.39 196.98,84.62 C195.85,83.85 194.78,82.32 194.58,81.02 C194.38,79.72 194.91,77.79 195.78,76.82 C196.65,75.85 198.45,75.35 199.78,75.22 Z" fill="none" stroke="#929292" stroke-width="0.6"/>
<path d="M199.90,76.23 C200.93,76.12 202.19,76.31 203.00,76.85 C203.80,77.39 204.58,78.53 204.73,79.48 C204.89,80.44 204.53,81.78 203.93,82.58 C203.33,83.39 202.17,84.16 201.14,84.32 C200.10,84.47 198.61,84.11 197.73,83.51 C196.85,82.91 196.02,81.73 195.87,80.72 C195.71,79.72 196.13,78.22 196.80,77.47 C197.47,76.72 198.86,76.33 199.90,76.23 Z" fill="none" stroke="#9c9c9c" stroke-width="0.6"/>
<path d="M200.01,77.24 C200.75,77.16 201.64,77.29 202.21,77.68 C202.79,78.06 203.34,78.87 203.45,79.55 C203.56,80.22 203.30,81.17 202.87,81.75 C202.45,82.32 201.63,82.87 200.89,82.98 C200.16,83.09 199.10,82.83 198.47,82.41 C197.85,81.98 197.26,81.14 197.15,80.43 C197.04,79.71 197.34,78.65 197.81,78.12 C198.29,77.58 199.28,77.31 200.01,77.24 Z" fill="none" stroke="#aaa" stroke-width="0.6"/>
<defs><radialGradient id="cg2" cx="0.574" cy="0.475" r="0.62" fx="0.574" fy="0.475"><stop offset="0" stop-color="#fff"/><stop offset="0.2" stop-color="#f4f4f4"/><stop offset="0.55" stop-color="#dcdcdc"/><stop offset="0.8" stop-color="#cccccc"/><stop offset="0.92" stop-color="#a8a8a8"/><stop offset="1" stop-color="#9a9a9a"/></radialGradient></defs>
<path d="M238.64,83.72 C242.00,84.84 242.93,89.69 243.68,93.80 C244.43,97.91 244.24,103.88 243.12,108.36 C242.00,112.84 239.85,117.79 236.96,120.68 C234.07,123.57 229.49,125.72 225.76,125.72 C222.03,125.72 217.27,123.57 214.56,120.68 C211.85,117.79 209.89,112.47 209.52,108.36 C209.15,104.25 209.99,99.59 212.32,96.04 C214.65,92.49 219.13,89.13 223.52,87.08 C227.91,85.03 235.28,82.60 238.64,83.72 Z" fill="#e6e6e6" stroke="none"/>
<path d="M237.50,86.00 C240.50,87.00 241.33,91.33 242.00,95.00 C242.67,98.67 242.50,104.00 241.50,108.00 C240.50,112.00 238.58,116.42 236.00,119.00 C233.42,121.58 229.33,123.50 226.00,123.50 C222.67,123.50 218.42,121.58 216.00,119.00 C213.58,116.42 211.83,111.67 211.50,108.00 C211.17,104.33 211.92,100.17 214.00,97.00 C216.08,93.83 220.08,90.83 224.00,89.00 C227.92,87.17 234.50,85.00 237.50,86.00 Z" fill="url(#cg2)" stroke="none"/>
<path d="M237.50,86.00 C240.50,87.00 241.33,91.33 242.00,95.00 C242.67,98.67 242.50,104.00 241.50,108.00 C240.50,112.00 238.58,116.42 236.00,119.00 C233.42,121.58 229.33,123.50 226.00,123.50 C222.67,123.50 218.42,121.58 216.00,119.00 C213.58,116.42 211.83,111.67 211.50,108.00 C211.17,104.33 211.92,100.17 214.00,97.00 C216.08,93.83 220.08,90.83 224.00,89.00 C227.92,87.17 234.50,85.00 237.50,86.00 Z" fill="none" stroke="#777" stroke-width="0.6"/>
<path d="M237.08,86.89 C239.93,87.84 240.72,91.96 241.35,95.44 C241.98,98.92 241.82,103.99 240.88,107.79 C239.93,111.59 238.10,115.79 235.65,118.24 C233.20,120.69 229.32,122.52 226.15,122.52 C222.98,122.52 218.95,120.69 216.65,118.24 C214.35,115.79 212.69,111.27 212.38,107.79 C212.06,104.31 212.77,100.35 214.75,97.34 C216.73,94.33 220.53,91.48 224.25,89.74 C227.97,88.00 234.23,85.94 237.08,86.89 Z" fill="none" stroke="#3a3a3a" stroke-width="0.6"/>
<path d="M236.65,87.78 C239.35,88.68 240.10,92.58 240.70,95.88 C241.30,99.18 241.15,103.98 240.25,107.58 C239.35,111.18 237.62,115.15 235.30,117.48 C232.97,119.80 229.30,121.53 226.30,121.53 C223.30,121.53 219.47,119.80 217.30,117.48 C215.12,115.15 213.55,110.88 213.25,107.58 C212.95,104.28 213.62,100.53 215.50,97.68 C217.38,94.83 220.97,92.13 224.50,90.48 C228.03,88.83 233.95,86.88 236.65,87.78 Z" fill="none" stroke="#333" stroke-width="0.6"/>
<path d="M236.22,88.67 C238.78,89.52 239.48,93.20 240.05,96.32 C240.62,99.44 240.47,103.97 239.62,107.37 C238.78,110.77 237.15,114.52 234.95,116.72 C232.75,118.92 229.28,120.54 226.45,120.54 C223.62,120.54 220.00,118.92 217.95,116.72 C215.90,114.52 214.41,110.49 214.12,107.37 C213.84,104.25 214.48,100.71 216.25,98.02 C218.02,95.33 221.42,92.78 224.75,91.22 C228.08,89.66 233.67,87.82 236.22,88.67 Z" fill="none" stroke="#444" stroke-width="0.6"/>
<path d="M235.54,90.09 C237.85,90.86 238.50,94.20 239.01,97.02 C239.52,99.85 239.40,103.95 238.62,107.03 C237.85,110.11 236.38,113.51 234.39,115.50 C232.40,117.49 229.26,118.97 226.69,118.97 C224.12,118.97 220.85,117.49 218.99,115.50 C217.13,113.51 215.78,109.86 215.52,107.03 C215.27,104.21 215.85,101.00 217.45,98.56 C219.05,96.13 222.13,93.82 225.15,92.40 C228.17,90.99 233.23,89.32 235.54,90.09 Z" fill="none" stroke="#555" stroke-width="0.6"/>
<path d="M234.87,91.52 C236.94,92.21 237.51,95.20 237.97,97.73 C238.43,100.26 238.31,103.94 237.62,106.70 C236.94,109.46 235.61,112.51 233.83,114.29 C232.05,116.07 229.23,117.39 226.93,117.39 C224.63,117.39 221.70,116.07 220.03,114.29 C218.36,112.51 217.16,109.23 216.93,106.70 C216.70,104.17 217.21,101.29 218.65,99.11 C220.09,96.92 222.85,94.85 225.55,93.59 C228.25,92.32 232.80,90.83 234.87,91.52 Z" fill="none" stroke="#606060" stroke-width="0.6"/>
<path d="M234.18,92.94 C236.01,93.55 236.52,96.20 236.93,98.43 C237.34,100.67 237.24,103.92 236.62,106.36 C236.01,108.80 234.85,111.50 233.27,113.07 C231.69,114.65 229.20,115.82 227.17,115.82 C225.14,115.82 222.54,114.65 221.07,113.07 C219.60,111.50 218.53,108.60 218.32,106.36 C218.12,104.13 218.58,101.58 219.85,99.65 C221.12,97.72 223.56,95.89 225.95,94.77 C228.34,93.65 232.35,92.33 234.18,92.94 Z" fill="none" stroke="#6a6a6a" stroke-width="0.6"/>
<path d="M233.50,94.37 C235.09,94.90 235.54,97.19 235.89,99.14 C236.24,101.08 236.16,103.91 235.62,106.03 C235.09,108.15 234.08,110.49 232.71,111.86 C231.34,113.23 229.18,114.24 227.41,114.24 C225.64,114.24 223.39,113.23 222.11,111.86 C220.83,110.49 219.90,107.97 219.72,106.03 C219.55,104.08 219.95,101.87 221.05,100.20 C222.15,98.52 224.27,96.93 226.35,95.96 C228.43,94.98 231.91,93.84 233.50,94.37 Z" fill="none" stroke="#767676" stroke-width="0.6"/>
<path d="M232.83,95.79 C234.18,96.24 234.55,98.19 234.85,99.84 C235.15,101.49 235.07,103.89 234.62,105.69 C234.18,107.49 233.31,109.48 232.15,110.64 C230.99,111.80 229.15,112.67 227.65,112.67 C226.15,112.67 224.24,111.80 223.15,110.64 C222.06,109.48 221.28,107.34 221.12,105.69 C220.97,104.04 221.31,102.17 222.25,100.74 C223.19,99.32 224.99,97.97 226.75,97.14 C228.51,96.31 231.48,95.34 232.83,95.79 Z" fill="none" stroke="#808080" stroke-width="0.6"/>
<path d="M232.14,97.21 C233.25,97.58 233.56,99.19 233.81,100.54 C234.06,101.90 234.00,103.87 233.62,105.35 C233.25,106.83 232.55,108.47 231.59,109.42 C230.63,110.38 229.12,111.09 227.89,111.09 C226.66,111.09 225.08,110.38 224.19,109.42 C223.30,108.47 222.65,106.71 222.53,105.35 C222.40,104.00 222.68,102.46 223.45,101.28 C224.22,100.11 225.70,99.00 227.15,98.32 C228.60,97.65 231.03,96.84 232.14,97.21 Z" fill="none" stroke="#8a8a8a" stroke-width="0.6"/>
<path d="M231.47,98.64 C232.34,98.93 232.58,100.18 232.77,101.25 C232.96,102.31 232.91,103.86 232.62,105.02 C232.34,106.18 231.78,107.46 231.03,108.21 C230.28,108.96 229.10,109.51 228.13,109.51 C227.16,109.51 225.93,108.96 225.23,108.21 C224.53,107.46 224.02,106.08 223.93,105.02 C223.83,103.95 224.05,102.75 224.65,101.83 C225.25,100.91 226.41,100.04 227.55,99.51 C228.69,98.98 230.59,98.35 231.47,98.64 Z" fill="none" stroke="#949494" stroke-width="0.6"/>
<path d="M230.78,100.06 C231.41,100.27 231.59,101.18 231.73,101.95 C231.87,102.72 231.84,103.84 231.62,104.68 C231.41,105.52 231.01,106.45 230.47,106.99 C229.93,107.53 229.07,107.94 228.37,107.94 C227.67,107.94 226.78,107.53 226.27,106.99 C225.76,106.45 225.39,105.45 225.32,104.68 C225.25,103.91 225.41,103.04 225.85,102.37 C226.29,101.71 227.13,101.08 227.95,100.69 C228.77,100.31 230.16,99.85 230.78,100.06 Z" fill="none" stroke="#a0a0a0" stroke-width="0.6"/>
<path d="M230.11,101.49 C230.50,101.62 230.60,102.18 230.69,102.66 C230.78,103.13 230.75,103.83 230.62,104.35 C230.50,104.87 230.25,105.44 229.91,105.78 C229.57,106.11 229.04,106.36 228.61,106.36 C228.18,106.36 227.62,106.11 227.31,105.78 C227.00,105.44 226.77,104.82 226.72,104.35 C226.68,103.87 226.78,103.33 227.05,102.92 C227.32,102.50 227.84,102.11 228.35,101.88 C228.86,101.64 229.72,101.36 230.11,101.49 Z" fill="none" stroke="#aaa" stroke-width="0.6"/>
<path d="M192.0,94.0 C188.0,104.0 191.0,113.0 196.0,121.0 C202.0,126.0 210.0,126.0 216.0,122.0" fill="none" stroke="#555" stroke-width="0.55"/>
<path d="M193.6,94.4 C189.6,104.0 192.6,111.8 197.6,119.8 C202.8,124.8 210.0,124.8 215.5,120.8" fill="none" stroke="#555" stroke-width="0.55"/>
<path d="M195.2,94.7 C191.2,104.0 194.2,110.6 199.2,118.6 C203.6,123.6 210.0,123.6 215.0,119.6" fill="none" stroke="#555" stroke-width="0.55"/>
<path d="M196.8,95.1 C192.8,104.0 195.8,109.4 200.8,117.4 C204.4,122.4 210.0,122.4 214.6,118.4" fill="none" stroke="#555" stroke-width="0.55"/>
<path d="M198.4,95.4 C194.4,104.0 197.4,108.4 202.4,116.4 C205.2,121.4 210.0,121.4 214.2,117.4" fill="none" stroke="#555" stroke-width="0.55"/>
<path d="M203,96 C199,100 197,104 201,108 C205,111 210,112 214,110" fill="none" stroke="#555" stroke-width="0.55"/>
<path d="M205,97 C202,100 201,103 204,106 C207,108 211,108 214,106" fill="none" stroke="#555" stroke-width="0.55"/>
<path d="M201,95 C196,100 194,106 198,111 C203,115 210,116 215,113" fill="none" stroke="#555" stroke-width="0.55"/>
<path d="M199,94 C193,101 191,110 196,116 C202,120 210,120 216,117" fill="none" stroke="#555" stroke-width="0.55"/>
<polygon points="180.1,61.5 213.9,59.3 234,67.4 232.6,80.8 197,100.3 185.6,103.4 177,96.2" fill="none" stroke="#1a1a1a" stroke-width="1.0" stroke-linejoin="round"/>
<text x="0" y="0" transform="translate(351.40 32.24) scale(1 1.1)" font-size="8.95" text-anchor="middle" fill="#1a1a1a" stroke="#1a1a1a" stroke-width="0.2" font-weight="normal">%Proliferated B cells</text>
<text x="0" y="0" transform="translate(454.30 32.24) scale(1 1.1)" font-size="8.95" text-anchor="middle" fill="#1a1a1a" stroke="#1a1a1a" stroke-width="0.2" font-weight="normal">%CD38+ plasmablasts</text>
<line x1="315.20" y1="45.50" x2="315.20" y2="134.15" stroke="#000" stroke-width="1.3" />
<line x1="312.20" y1="47.60" x2="315.20" y2="47.60" stroke="#000" stroke-width="1.0" />
<text x="308.80" y="49.90" font-size="6.4" text-anchor="end" fill="#1a1a1a" stroke="#1a1a1a" stroke-width="0.06" font-weight="normal" >100%</text>
<line x1="312.20" y1="64.80" x2="315.20" y2="64.80" stroke="#000" stroke-width="1.0" />
<text x="308.80" y="67.10" font-size="6.4" text-anchor="end" fill="#1a1a1a" stroke="#1a1a1a" stroke-width="0.06" font-weight="normal" >80%</text>
<line x1="312.20" y1="82.00" x2="315.20" y2="82.00" stroke="#000" stroke-width="1.0" />
<text x="308.80" y="84.30" font-size="6.4" text-anchor="end" fill="#1a1a1a" stroke="#1a1a1a" stroke-width="0.06" font-weight="normal" >60%</text>
<line x1="312.20" y1="99.20" x2="315.20" y2="99.20" stroke="#000" stroke-width="1.0" />
<text x="308.80" y="101.50" font-size="6.4" text-anchor="end" fill="#1a1a1a" stroke="#1a1a1a" stroke-width="0.06" font-weight="normal" >40%</text>
<line x1="312.20" y1="116.30" x2="315.20" y2="116.30" stroke="#000" stroke-width="1.0" />
<text x="308.80" y="118.60" font-size="6.4" text-anchor="end" fill="#1a1a1a" stroke="#1a1a1a" stroke-width="0.06" font-weight="normal" >20%</text>
<line x1="312.20" y1="133.50" x2="315.20" y2="133.50" stroke="#000" stroke-width="1.0" />
<text x="308.80" y="135.80" font-size="6.4" text-anchor="end" fill="#1a1a1a" stroke="#1a1a1a" stroke-width="0.06" font-weight="normal" >0%</text>
<line x1="314.60" y1="133.50" x2="383.80" y2="133.50" stroke="#000" stroke-width="1.5" />
<line x1="335.60" y1="133.50" x2="335.60" y2="136.20" stroke="#000" stroke-width="1.0" />
<line x1="366.00" y1="133.50" x2="366.00" y2="136.20" stroke="#000" stroke-width="1.0" />
<text x="335.60" y="146.21" font-size="6.7" text-anchor="middle" fill="#1a1a1a" stroke="#1a1a1a" stroke-width="0.06" font-weight="normal" >0</text>
<text x="366.00" y="146.21" font-size="6.7" text-anchor="middle" fill="#1a1a1a" stroke="#1a1a1a" stroke-width="0.06" font-weight="normal" >2.5</text>
<line x1="330.50" y1="150.60" x2="372.00" y2="150.60" stroke="#4a4a4a" stroke-width="1.45" />
<text x="351.20" y="160.01" font-size="6.7" text-anchor="middle" fill="#1a1a1a" stroke="#1a1a1a" stroke-width="0.06" font-weight="normal" >Heme</text>
<line x1="335.60" y1="50.80" x2="365.90" y2="50.80" stroke="#555" stroke-width="1.5" />
<text x="350.80" y="46.48" font-size="6.9" text-anchor="middle" fill="#1a1a1a" stroke="#1a1a1a" stroke-width="0.06" font-weight="normal" >0.1108</text>
<line x1="335.60" y1="55.10" x2="366.00" y2="56.30" stroke="#ae1139" stroke-width="1.2" />
<line x1="335.60" y1="55.80" x2="366.00" y2="57.20" stroke="#ae1139" stroke-width="1.2" />
<line x1="335.60" y1="64.00" x2="366.00" y2="64.40" stroke="#ae1139" stroke-width="1.2" />
<line x1="335.60" y1="85.90" x2="366.00" y2="91.40" stroke="#ae1139" stroke-width="1.2" />
<circle cx="335.60" cy="55.10" r="1.75" fill="#ae1139"/>
<circle cx="366.00" cy="56.30" r="1.75" fill="#ae1139"/>
<circle cx="335.60" cy="55.80" r="1.75" fill="#ae1139"/>
<circle cx="366.00" cy="57.20" r="1.75" fill="#ae1139"/>
<circle cx="335.60" cy="64.00" r="1.75" fill="#ae1139"/>
<circle cx="366.00" cy="64.40" r="1.75" fill="#ae1139"/>
<circle cx="335.60" cy="85.90" r="1.75" fill="#ae1139"/>
<circle cx="366.00" cy="91.40" r="1.75" fill="#ae1139"/>
<line x1="416.90" y1="43.70" x2="416.90" y2="134.15" stroke="#000" stroke-width="1.3" />
<line x1="413.90" y1="45.50" x2="416.90" y2="45.50" stroke="#000" stroke-width="1.0" />
<text x="410.50" y="47.80" font-size="6.4" text-anchor="end" fill="#1a1a1a" stroke="#1a1a1a" stroke-width="0.06" font-weight="normal" >15%</text>
<line x1="413.90" y1="74.90" x2="416.90" y2="74.90" stroke="#000" stroke-width="1.0" />
<text x="410.50" y="77.20" font-size="6.4" text-anchor="end" fill="#1a1a1a" stroke="#1a1a1a" stroke-width="0.06" font-weight="normal" >10%</text>
<line x1="413.90" y1="104.20" x2="416.90" y2="104.20" stroke="#000" stroke-width="1.0" />
<text x="410.50" y="106.50" font-size="6.4" text-anchor="end" fill="#1a1a1a" stroke="#1a1a1a" stroke-width="0.06" font-weight="normal" >5%</text>
<line x1="413.90" y1="133.50" x2="416.90" y2="133.50" stroke="#000" stroke-width="1.0" />
<text x="410.50" y="135.80" font-size="6.4" text-anchor="end" fill="#1a1a1a" stroke="#1a1a1a" stroke-width="0.06" font-weight="normal" >0%</text>
<line x1="416.30" y1="133.50" x2="490.00" y2="133.50" stroke="#000" stroke-width="1.5" />
<line x1="438.20" y1="133.50" x2="438.20" y2="136.20" stroke="#000" stroke-width="1.0" />
<line x1="469.30" y1="133.50" x2="469.30" y2="136.20" stroke="#000" stroke-width="1.0" />
<text x="438.20" y="146.21" font-size="6.7" text-anchor="middle" fill="#1a1a1a" stroke="#1a1a1a" stroke-width="0.06" font-weight="normal" >0</text>
<text x="469.30" y="146.21" font-size="6.7" text-anchor="middle" fill="#1a1a1a" stroke="#1a1a1a" stroke-width="0.06" font-weight="normal" >2.5</text>
<line x1="433.00" y1="150.60" x2="475.00" y2="150.60" stroke="#4a4a4a" stroke-width="1.45" />
<text x="454.00" y="160.01" font-size="6.7" text-anchor="middle" fill="#1a1a1a" stroke="#1a1a1a" stroke-width="0.06" font-weight="normal" >Heme</text>
<line x1="438.30" y1="59.80" x2="469.30" y2="59.80" stroke="#555" stroke-width="1.5" />
<text x="453.80" y="55.38" font-size="6.9" text-anchor="middle" fill="#1a1a1a" stroke="#1a1a1a" stroke-width="0.06" font-weight="normal" >0.0016</text>
<line x1="438.20" y1="63.90" x2="469.30" y2="85.70" stroke="#ae1139" stroke-width="1.2" />
<line x1="438.20" y1="82.70" x2="469.30" y2="106.50" stroke="#ae1139" stroke-width="1.2" />
<line x1="438.20" y1="87.60" x2="469.30" y2="100.30" stroke="#ae1139" stroke-width="1.2" />
<line x1="438.20" y1="88.70" x2="469.30" y2="109.20" stroke="#ae1139" stroke-width="1.2" />
<line x1="438.20" y1="114.20" x2="469.30" y2="127.30" stroke="#ae1139" stroke-width="1.2" />
<line x1="438.20" y1="120.40" x2="469.30" y2="127.70" stroke="#ae1139" stroke-width="1.2" />
<circle cx="438.20" cy="63.90" r="1.75" fill="#ae1139"/>
<circle cx="469.30" cy="85.70" r="1.75" fill="#ae1139"/>
<circle cx="438.20" cy="82.70" r="1.75" fill="#ae1139"/>
<circle cx="469.30" cy="106.50" r="1.75" fill="#ae1139"/>
<circle cx="438.20" cy="87.60" r="1.75" fill="#ae1139"/>
<circle cx="469.30" cy="100.30" r="1.75" fill="#ae1139"/>
<circle cx="438.20" cy="88.70" r="1.75" fill="#ae1139"/>
<circle cx="469.30" cy="109.20" r="1.75" fill="#ae1139"/>
<circle cx="438.20" cy="114.20" r="1.75" fill="#ae1139"/>
<circle cx="469.30" cy="127.30" r="1.75" fill="#ae1139"/>
<circle cx="438.20" cy="120.40" r="1.75" fill="#ae1139"/>
<circle cx="469.30" cy="127.70" r="1.75" fill="#ae1139"/>
<text x="0" y="0" transform="translate(112.30 197.96) scale(1 1.1)" font-size="9.0" text-anchor="middle" fill="#1a1a1a" stroke="#1a1a1a" stroke-width="0.2" font-weight="normal">Change of %Proliferated B cells</text>
<rect x="47.80" y="226.70" width="15.00" height="72.10" fill="#d8d7dd" />
<rect x="70.90" y="226.60" width="14.90" height="72.20" fill="#b5b4be" />
<rect x="94.10" y="223.60" width="15.10" height="75.20" fill="#9a9aa6" />
<rect x="117.10" y="225.30" width="15.10" height="73.50" fill="#80808e" />
<rect x="140.20" y="228.50" width="14.90" height="70.30" fill="#636576" />
<rect x="163.20" y="230.80" width="15.00" height="68.00" fill="#4c5065" />
<line x1="101.60" y1="220.90" x2="101.60" y2="225.50" stroke="#000" stroke-width="1.25" />
<line x1="98.00" y1="220.90" x2="105.20" y2="220.90" stroke="#000" stroke-width="1.25" />
<line x1="98.00" y1="225.50" x2="105.20" y2="225.50" stroke="#000" stroke-width="1.25" />
<line x1="170.60" y1="228.40" x2="170.60" y2="233.00" stroke="#000" stroke-width="1.25" />
<line x1="167.00" y1="228.40" x2="174.20" y2="228.40" stroke="#000" stroke-width="1.25" />
<line x1="167.00" y1="233.00" x2="174.20" y2="233.00" stroke="#000" stroke-width="1.25" />
<polygon points="47.95,226.55 51.05,226.55 49.50,223.45" fill="#000"/>
<polygon points="50.95,226.55 54.05,226.55 52.50,223.45" fill="#000"/>
<polygon points="53.85,226.55 56.95,226.55 55.40,223.45" fill="#000"/>
<polygon points="56.75,226.55 59.85,226.55 58.30,223.45" fill="#000"/>
<polygon points="59.65,226.55 62.75,226.55 61.20,223.45" fill="#000"/>
<polygon points="70.35,226.90 74.25,226.90 72.30,223.30" fill="#000"/>
<polygon points="74.35,224.60 78.25,224.60 76.30,221.00" fill="#000"/>
<polygon points="75.95,222.10 79.85,222.10 77.90,218.50" fill="#000"/>
<polygon points="77.25,225.70 81.15,225.70 79.20,222.10" fill="#000"/>
<polygon points="78.65,225.20 82.55,225.20 80.60,221.60" fill="#000"/>
<polygon points="82.35,226.90 86.25,226.90 84.30,223.30" fill="#000"/>
<polygon points="99.65,218.20 103.55,218.20 101.60,214.60" fill="#000"/>
<polygon points="93.25,224.00 97.15,224.00 95.20,220.40" fill="#000"/>
<polygon points="93.25,228.50 97.15,228.50 95.20,224.90" fill="#000"/>
<polygon points="99.35,224.70 103.25,224.70 101.30,221.10" fill="#000"/>
<polygon points="105.35,228.00 109.25,228.00 107.30,224.40" fill="#000"/>
<polygon points="116.65,223.40 120.55,223.40 118.60,219.80" fill="#000"/>
<polygon points="116.65,228.10 120.55,228.10 118.60,224.50" fill="#000"/>
<polygon points="120.15,225.00 124.05,225.00 122.10,221.40" fill="#000"/>
<polygon points="124.15,226.80 128.05,226.80 126.10,223.20" fill="#000"/>
<polygon points="128.65,226.20 132.55,226.20 130.60,222.60" fill="#000"/>
<polygon points="139.95,226.70 143.85,226.70 141.90,223.10" fill="#000"/>
<polygon points="144.35,228.20 148.25,228.20 146.30,224.60" fill="#000"/>
<polygon points="148.45,228.00 152.35,228.00 150.40,224.40" fill="#000"/>
<polygon points="151.75,228.20 155.65,228.20 153.70,224.60" fill="#000"/>
<polygon points="145.35,235.30 149.25,235.30 147.30,231.70" fill="#000"/>
<polygon points="162.85,230.80 166.75,230.80 164.80,227.20" fill="#000"/>
<polygon points="166.85,229.40 170.75,229.40 168.80,225.80" fill="#000"/>
<polygon points="170.65,232.30 174.55,232.30 172.60,228.70" fill="#000"/>
<polygon points="174.65,230.80 178.55,230.80 176.60,227.20" fill="#000"/>
<polygon points="166.65,235.30 170.55,235.30 168.60,231.70" fill="#000"/>
<line x1="43.55" y1="202.90" x2="43.55" y2="299.45" stroke="#000" stroke-width="1.3" />
<line x1="40.55" y1="205.80" x2="43.55" y2="205.80" stroke="#000" stroke-width="1.0" />
<text x="37.15" y="208.10" font-size="6.4" text-anchor="end" fill="#1a1a1a" stroke="#1a1a1a" stroke-width="0.06" font-weight="normal" >125%</text>
<line x1="40.55" y1="224.40" x2="43.55" y2="224.40" stroke="#000" stroke-width="1.0" />
<text x="37.15" y="226.70" font-size="6.4" text-anchor="end" fill="#1a1a1a" stroke="#1a1a1a" stroke-width="0.06" font-weight="normal" >100%</text>
<line x1="40.55" y1="243.00" x2="43.55" y2="243.00" stroke="#000" stroke-width="1.0" />
<text x="37.15" y="245.30" font-size="6.4" text-anchor="end" fill="#1a1a1a" stroke="#1a1a1a" stroke-width="0.06" font-weight="normal" >75%</text>
<line x1="40.55" y1="261.60" x2="43.55" y2="261.60" stroke="#000" stroke-width="1.0" />
<text x="37.15" y="263.90" font-size="6.4" text-anchor="end" fill="#1a1a1a" stroke="#1a1a1a" stroke-width="0.06" font-weight="normal" >50%</text>
<line x1="40.55" y1="280.20" x2="43.55" y2="280.20" stroke="#000" stroke-width="1.0" />
<text x="37.15" y="282.50" font-size="6.4" text-anchor="end" fill="#1a1a1a" stroke="#1a1a1a" stroke-width="0.06" font-weight="normal" >25%</text>
<line x1="40.55" y1="298.80" x2="43.55" y2="298.80" stroke="#000" stroke-width="1.0" />
<text x="37.15" y="301.10" font-size="6.4" text-anchor="end" fill="#1a1a1a" stroke="#1a1a1a" stroke-width="0.06" font-weight="normal" >0%</text>
<line x1="42.95" y1="298.80" x2="181.30" y2="298.80" stroke="#000" stroke-width="1.5" />
<line x1="55.30" y1="298.80" x2="55.30" y2="301.40" stroke="#000" stroke-width="1.0" />
<text x="55.30" y="311.21" font-size="6.7" text-anchor="middle" fill="#1a1a1a" stroke="#1a1a1a" stroke-width="0.06" font-weight="normal" >0</text>
<line x1="78.35" y1="298.80" x2="78.35" y2="301.40" stroke="#000" stroke-width="1.0" />
<text x="78.35" y="311.21" font-size="6.7" text-anchor="middle" fill="#1a1a1a" stroke="#1a1a1a" stroke-width="0.06" font-weight="normal" >0.25</text>
<line x1="101.65" y1="298.80" x2="101.65" y2="301.40" stroke="#000" stroke-width="1.0" />
<text x="101.65" y="311.21" font-size="6.7" text-anchor="middle" fill="#1a1a1a" stroke="#1a1a1a" stroke-width="0.06" font-weight="normal" >0.5</text>
<line x1="124.65" y1="298.80" x2="124.65" y2="301.40" stroke="#000" stroke-width="1.0" />
<text x="124.65" y="311.21" font-size="6.7" text-anchor="middle" fill="#1a1a1a" stroke="#1a1a1a" stroke-width="0.06" font-weight="normal" >1</text>
<line x1="147.65" y1="298.80" x2="147.65" y2="301.40" stroke="#000" stroke-width="1.0" />
<text x="147.65" y="311.21" font-size="6.7" text-anchor="middle" fill="#1a1a1a" stroke="#1a1a1a" stroke-width="0.06" font-weight="normal" >2.5</text>
<line x1="170.70" y1="298.80" x2="170.70" y2="301.40" stroke="#000" stroke-width="1.0" />
<text x="170.70" y="311.21" font-size="6.7" text-anchor="middle" fill="#1a1a1a" stroke="#1a1a1a" stroke-width="0.06" font-weight="normal" >5</text>
<text x="170.60" y="222.72" font-size="8.2" text-anchor="middle" fill="#c4163f">*</text>
<line x1="52.00" y1="315.50" x2="173.80" y2="315.50" stroke="#333" stroke-width="1.3" />
<text x="113.40" y="325.23" font-size="6.75" text-anchor="middle" fill="#1a1a1a" stroke="#1a1a1a" stroke-width="0.06" font-weight="normal" >Heme(μM)</text>
<text x="112.20" y="213.75" font-size="6.8" text-anchor="middle" fill="#4663a6" stroke="#4663a6" stroke-width="0.06" font-weight="normal" >Naive B cell</text>
<text x="0" y="0" transform="translate(303.20 197.56) scale(1 1.1)" font-size="9.0" text-anchor="middle" fill="#1a1a1a" stroke="#1a1a1a" stroke-width="0.2" font-weight="normal">Change of % CD38+ plasmablasts</text>
<rect x="237.80" y="226.00" width="15.00" height="72.80" fill="#d8d7dd" />
<rect x="260.90" y="228.90" width="15.10" height="69.90" fill="#b5b4be" />
<rect x="284.90" y="234.10" width="15.10" height="64.70" fill="#9a9aa6" />
<rect x="308.00" y="246.50" width="14.90" height="52.30" fill="#80808e" />
<rect x="331.60" y="246.50" width="14.80" height="52.30" fill="#636576" />
<rect x="355.00" y="263.10" width="14.70" height="35.70" fill="#4c5065" />
<line x1="268.50" y1="225.80" x2="268.50" y2="232.20" stroke="#000" stroke-width="1.25" />
<line x1="264.90" y1="225.80" x2="272.10" y2="225.80" stroke="#000" stroke-width="1.25" />
<line x1="264.90" y1="232.20" x2="272.10" y2="232.20" stroke="#000" stroke-width="1.25" />
<line x1="292.40" y1="231.20" x2="292.40" y2="238.60" stroke="#000" stroke-width="1.25" />
<line x1="288.80" y1="231.20" x2="296.00" y2="231.20" stroke="#000" stroke-width="1.25" />
<line x1="288.80" y1="238.60" x2="296.00" y2="238.60" stroke="#000" stroke-width="1.25" />
<line x1="315.50" y1="242.50" x2="315.50" y2="249.50" stroke="#000" stroke-width="1.25" />
<line x1="311.90" y1="242.50" x2="319.10" y2="242.50" stroke="#000" stroke-width="1.25" />
<line x1="311.90" y1="249.50" x2="319.10" y2="249.50" stroke="#000" stroke-width="1.25" />
<line x1="339.00" y1="242.20" x2="339.00" y2="250.60" stroke="#000" stroke-width="1.25" />
<line x1="335.40" y1="242.20" x2="342.60" y2="242.20" stroke="#000" stroke-width="1.25" />
<line x1="335.40" y1="250.60" x2="342.60" y2="250.60" stroke="#000" stroke-width="1.25" />
<line x1="362.40" y1="256.60" x2="362.40" y2="268.70" stroke="#000" stroke-width="1.25" />
<line x1="358.80" y1="256.60" x2="366.00" y2="256.60" stroke="#000" stroke-width="1.25" />
<line x1="358.80" y1="268.70" x2="366.00" y2="268.70" stroke="#000" stroke-width="1.25" />
<polygon points="237.95,225.85 241.05,225.85 239.50,222.75" fill="#000"/>
<polygon points="240.95,225.85 244.05,225.85 242.50,222.75" fill="#000"/>
<polygon points="243.85,225.85 246.95,225.85 245.40,222.75" fill="#000"/>
<polygon points="246.75,225.85 249.85,225.85 248.30,222.75" fill="#000"/>
<polygon points="249.65,225.85 252.75,225.85 251.20,222.75" fill="#000"/>
<polygon points="266.75,223.80 270.65,223.80 268.70,220.20" fill="#000"/>
<polygon points="262.75,230.90 266.65,230.90 264.70,227.30" fill="#000"/>
<polygon points="270.85,230.90 274.75,230.90 272.80,227.30" fill="#000"/>
<polygon points="266.75,238.30 270.65,238.30 268.70,234.70" fill="#000"/>
<polygon points="286.15,230.50 290.05,230.50 288.10,226.90" fill="#000"/>
<polygon points="294.25,230.50 298.15,230.50 296.20,226.90" fill="#000"/>
<polygon points="286.15,240.80 290.05,240.80 288.10,237.20" fill="#000"/>
<polygon points="293.95,240.80 297.85,240.80 295.90,237.20" fill="#000"/>
<polygon points="307.45,244.30 311.35,244.30 309.40,240.70" fill="#000"/>
<polygon points="319.55,244.30 323.45,244.30 321.50,240.70" fill="#000"/>
<polygon points="313.55,246.70 317.45,246.70 315.50,243.10" fill="#000"/>
<polygon points="313.55,257.80 317.45,257.80 315.50,254.20" fill="#000"/>
<polygon points="336.65,239.20 340.55,239.20 338.60,235.60" fill="#000"/>
<polygon points="336.65,248.30 340.55,248.30 338.60,244.70" fill="#000"/>
<polygon points="336.65,253.40 340.55,253.40 338.60,249.80" fill="#000"/>
<polygon points="336.65,260.20 340.55,260.20 338.60,256.60" fill="#000"/>
<polygon points="356.55,250.60 360.45,250.60 358.50,247.00" fill="#000"/>
<polygon points="364.05,253.70 367.95,253.70 366.00,250.10" fill="#000"/>
<polygon points="360.55,263.40 364.45,263.40 362.50,259.80" fill="#000"/>
<polygon points="360.55,275.20 364.45,275.20 362.50,271.60" fill="#000"/>
<polygon points="360.55,281.10 364.45,281.10 362.50,277.50" fill="#000"/>
<line x1="233.90" y1="202.90" x2="233.90" y2="299.45" stroke="#000" stroke-width="1.3" />
<line x1="230.90" y1="205.80" x2="233.90" y2="205.80" stroke="#000" stroke-width="1.0" />
<text x="227.50" y="208.10" font-size="6.4" text-anchor="end" fill="#1a1a1a" stroke="#1a1a1a" stroke-width="0.06" font-weight="normal" >125%</text>
<line x1="230.90" y1="224.40" x2="233.90" y2="224.40" stroke="#000" stroke-width="1.0" />
<text x="227.50" y="226.70" font-size="6.4" text-anchor="end" fill="#1a1a1a" stroke="#1a1a1a" stroke-width="0.06" font-weight="normal" >100%</text>
<line x1="230.90" y1="243.00" x2="233.90" y2="243.00" stroke="#000" stroke-width="1.0" />
<text x="227.50" y="245.30" font-size="6.4" text-anchor="end" fill="#1a1a1a" stroke="#1a1a1a" stroke-width="0.06" font-weight="normal" >75%</text>
<line x1="230.90" y1="261.60" x2="233.90" y2="261.60" stroke="#000" stroke-width="1.0" />
<text x="227.50" y="263.90" font-size="6.4" text-anchor="end" fill="#1a1a1a" stroke="#1a1a1a" stroke-width="0.06" font-weight="normal" >50%</text>
<line x1="230.90" y1="280.20" x2="233.90" y2="280.20" stroke="#000" stroke-width="1.0" />
<text x="227.50" y="282.50" font-size="6.4" text-anchor="end" fill="#1a1a1a" stroke="#1a1a1a" stroke-width="0.06" font-weight="normal" >25%</text>
<line x1="230.90" y1="298.80" x2="233.90" y2="298.80" stroke="#000" stroke-width="1.0" />
<text x="227.50" y="301.10" font-size="6.4" text-anchor="end" fill="#1a1a1a" stroke="#1a1a1a" stroke-width="0.06" font-weight="normal" >0%</text>
<line x1="233.30" y1="298.80" x2="372.80" y2="298.80" stroke="#000" stroke-width="1.5" />
<line x1="245.30" y1="298.80" x2="245.30" y2="301.40" stroke="#000" stroke-width="1.0" />
<text x="245.30" y="311.21" font-size="6.7" text-anchor="middle" fill="#1a1a1a" stroke="#1a1a1a" stroke-width="0.06" font-weight="normal" >0</text>
<line x1="268.45" y1="298.80" x2="268.45" y2="301.40" stroke="#000" stroke-width="1.0" />
<text x="268.45" y="311.21" font-size="6.7" text-anchor="middle" fill="#1a1a1a" stroke="#1a1a1a" stroke-width="0.06" font-weight="normal" >0.25</text>
<line x1="292.45" y1="298.80" x2="292.45" y2="301.40" stroke="#000" stroke-width="1.0" />
<text x="292.45" y="311.21" font-size="6.7" text-anchor="middle" fill="#1a1a1a" stroke="#1a1a1a" stroke-width="0.06" font-weight="normal" >0.5</text>
<line x1="315.45" y1="298.80" x2="315.45" y2="301.40" stroke="#000" stroke-width="1.0" />
<text x="315.45" y="311.21" font-size="6.7" text-anchor="middle" fill="#1a1a1a" stroke="#1a1a1a" stroke-width="0.06" font-weight="normal" >1</text>
<line x1="339.00" y1="298.80" x2="339.00" y2="301.40" stroke="#000" stroke-width="1.0" />
<text x="339.00" y="311.21" font-size="6.7" text-anchor="middle" fill="#1a1a1a" stroke="#1a1a1a" stroke-width="0.06" font-weight="normal" >2.5</text>
<line x1="362.35" y1="298.80" x2="362.35" y2="301.40" stroke="#000" stroke-width="1.0" />
<text x="362.35" y="311.21" font-size="6.7" text-anchor="middle" fill="#1a1a1a" stroke="#1a1a1a" stroke-width="0.06" font-weight="normal" >5</text>
<text x="291.90" y="228.22" font-size="8.2" text-anchor="middle" fill="#c4163f">*</text>
<text x="315.60" y="235.32" font-size="8.2" text-anchor="middle" fill="#c4163f">**</text>
<text x="338.80" y="236.92" font-size="8.2" text-anchor="middle" fill="#c4163f">**</text>
<text x="362.10" y="246.72" font-size="8.2" text-anchor="middle" fill="#c4163f">**</text>
<line x1="242.50" y1="315.50" x2="365.50" y2="315.50" stroke="#333" stroke-width="1.3" />
<text x="304.50" y="325.23" font-size="6.75" text-anchor="middle" fill="#1a1a1a" stroke="#1a1a1a" stroke-width="0.06" font-weight="normal" >Heme(μM)</text>
<text x="303.50" y="213.75" font-size="6.8" text-anchor="middle" fill="#4663a6" stroke="#4663a6" stroke-width="0.06" font-weight="normal" >Naive B cell</text>
<text x="0" y="0" transform="translate(105.60 374.16) scale(1 1.1)" font-size="9.0" text-anchor="middle" fill="#1a1a1a" stroke="#1a1a1a" stroke-width="0.2" font-weight="normal">%CD38+ plasmablasts</text>
<rect x="51.50" y="397.20" width="14.80" height="70.70" fill="#50235f" />
<rect x="75.00" y="420.00" width="14.60" height="47.90" fill="#7f808e" />
<line x1="82.30" y1="412.00" x2="82.30" y2="420.00" stroke="#000" stroke-width="1.25" />
<line x1="78.60" y1="412.00" x2="86.00" y2="412.00" stroke="#000" stroke-width="1.25" />
<rect x="98.40" y="445.60" width="14.20" height="22.30" fill="#4b5065" />
<line x1="105.50" y1="436.40" x2="105.50" y2="445.60" stroke="#000" stroke-width="1.25" />
<line x1="101.80" y1="436.40" x2="109.20" y2="436.40" stroke="#000" stroke-width="1.25" />
<rect x="121.40" y="420.40" width="14.60" height="47.50" fill="#7f808e" />
<line x1="128.70" y1="410.00" x2="128.70" y2="420.40" stroke="#000" stroke-width="1.25" />
<line x1="125.00" y1="410.00" x2="132.40" y2="410.00" stroke="#000" stroke-width="1.25" />
<rect x="144.60" y="433.00" width="14.40" height="34.90" fill="#4b5065" />
<line x1="151.80" y1="415.60" x2="151.80" y2="433.00" stroke="#000" stroke-width="1.25" />
<line x1="148.10" y1="415.60" x2="155.50" y2="415.60" stroke="#000" stroke-width="1.25" />
<line x1="43.50" y1="378.50" x2="43.50" y2="468.55" stroke="#000" stroke-width="1.3" />
<line x1="40.50" y1="381.50" x2="43.50" y2="381.50" stroke="#000" stroke-width="1.0" />
<text x="36.90" y="383.80" font-size="6.4" text-anchor="end" fill="#1a1a1a" stroke="#1a1a1a" stroke-width="0.06" font-weight="normal" >120%</text>
<line x1="40.50" y1="396.20" x2="43.50" y2="396.20" stroke="#000" stroke-width="1.0" />
<text x="36.90" y="398.50" font-size="6.4" text-anchor="end" fill="#1a1a1a" stroke="#1a1a1a" stroke-width="0.06" font-weight="normal" >100%</text>
<line x1="40.50" y1="410.80" x2="43.50" y2="410.80" stroke="#000" stroke-width="1.0" />
<text x="36.90" y="413.10" font-size="6.4" text-anchor="end" fill="#1a1a1a" stroke="#1a1a1a" stroke-width="0.06" font-weight="normal" >80%</text>
<line x1="40.50" y1="425.30" x2="43.50" y2="425.30" stroke="#000" stroke-width="1.0" />
<text x="36.90" y="427.60" font-size="6.4" text-anchor="end" fill="#1a1a1a" stroke="#1a1a1a" stroke-width="0.06" font-weight="normal" >60%</text>
<line x1="40.50" y1="439.80" x2="43.50" y2="439.80" stroke="#000" stroke-width="1.0" />
<text x="36.90" y="442.10" font-size="6.4" text-anchor="end" fill="#1a1a1a" stroke="#1a1a1a" stroke-width="0.06" font-weight="normal" >40%</text>
<line x1="40.50" y1="454.30" x2="43.50" y2="454.30" stroke="#000" stroke-width="1.0" />
<text x="36.90" y="456.60" font-size="6.4" text-anchor="end" fill="#1a1a1a" stroke="#1a1a1a" stroke-width="0.06" font-weight="normal" >20%</text>
<line x1="40.50" y1="468.00" x2="43.50" y2="468.00" stroke="#000" stroke-width="1.0" />
<text x="36.90" y="470.30" font-size="6.4" text-anchor="end" fill="#1a1a1a" stroke="#1a1a1a" stroke-width="0.06" font-weight="normal" >0%</text>
<line x1="43.00" y1="467.90" x2="170.00" y2="467.90" stroke="#000" stroke-width="1.5" />
<line x1="58.90" y1="467.90" x2="58.90" y2="470.50" stroke="#000" stroke-width="1.0" />
<line x1="82.30" y1="467.90" x2="82.30" y2="470.50" stroke="#000" stroke-width="1.0" />
<line x1="105.50" y1="467.90" x2="105.50" y2="470.50" stroke="#000" stroke-width="1.0" />
<line x1="128.70" y1="467.90" x2="128.70" y2="470.50" stroke="#000" stroke-width="1.0" />
<line x1="151.80" y1="467.90" x2="151.80" y2="470.50" stroke="#000" stroke-width="1.0" />
<line x1="44.20" y1="396.40" x2="168.60" y2="396.40" stroke="#000" stroke-width="1.0" stroke-dasharray="3.0,2.2"/>
<line x1="59.50" y1="392.40" x2="109.00" y2="392.40" stroke="#333" stroke-width="1.2" />
<text x="84.00" y="390.88" font-size="6.6" text-anchor="middle" fill="#1a1a1a" stroke="#1a1a1a" stroke-width="0.06" font-weight="normal" >0.0017</text>
<text x="58.90" y="480.41" font-size="6.7" text-anchor="middle" fill="#1a1a1a" stroke="#1a1a1a" stroke-width="0.06" font-weight="normal" >CON</text>
<text x="82.30" y="480.41" font-size="6.7" text-anchor="middle" fill="#1a1a1a" stroke="#1a1a1a" stroke-width="0.06" font-weight="normal" >Low</text>
<text x="105.50" y="480.41" font-size="6.7" text-anchor="middle" fill="#1a1a1a" stroke="#1a1a1a" stroke-width="0.06" font-weight="normal" >High</text>
<text x="128.70" y="480.41" font-size="6.7" text-anchor="middle" fill="#1a1a1a" stroke="#1a1a1a" stroke-width="0.06" font-weight="normal" >2.5</text>
<text x="151.80" y="480.41" font-size="6.7" text-anchor="middle" fill="#1a1a1a" stroke="#1a1a1a" stroke-width="0.06" font-weight="normal" >5</text>
<line x1="74.60" y1="485.40" x2="112.80" y2="485.40" stroke="#4a4a4a" stroke-width="1.45" />
<line x1="120.90" y1="485.40" x2="159.20" y2="485.40" stroke="#4a4a4a" stroke-width="1.45" />
<text x="93.70" y="494.71" font-size="6.7" text-anchor="middle" fill="#1a1a1a" stroke="#1a1a1a" stroke-width="0.06" font-weight="normal" >RBC Lysate</text>
<text x="140.00" y="494.71" font-size="6.7" text-anchor="middle" fill="#1a1a1a" stroke="#1a1a1a" stroke-width="0.06" font-weight="normal" >Heme</text>
<text x="0" y="0" transform="translate(273.00 371.66) scale(1 1.1)" font-size="9.0" text-anchor="middle" fill="#1a1a1a" stroke="#1a1a1a" stroke-width="0.2" font-weight="normal">%CD38+ plasmablasts</text>
<rect x="208.60" y="397.80" width="14.30" height="70.10" fill="#887dbb" />
<rect x="231.40" y="395.10" width="14.60" height="72.80" fill="#5fa3dd" />
<line x1="238.70" y1="387.40" x2="238.70" y2="395.10" stroke="#000" stroke-width="1.25" />
<line x1="235.00" y1="387.40" x2="242.40" y2="387.40" stroke="#000" stroke-width="1.25" />
<rect x="254.20" y="422.00" width="14.50" height="45.90" fill="#887dbb" />
<line x1="261.45" y1="414.70" x2="261.45" y2="422.00" stroke="#000" stroke-width="1.25" />
<line x1="257.75" y1="414.70" x2="265.15" y2="414.70" stroke="#000" stroke-width="1.25" />
<rect x="276.90" y="397.40" width="14.40" height="70.50" fill="#5fa3dd" />
<line x1="284.10" y1="394.70" x2="284.10" y2="397.40" stroke="#000" stroke-width="1.25" />
<line x1="280.40" y1="394.70" x2="287.80" y2="394.70" stroke="#000" stroke-width="1.25" />
<rect x="300.40" y="420.70" width="14.00" height="47.20" fill="#887dbb" />
<line x1="307.40" y1="414.70" x2="307.40" y2="420.70" stroke="#000" stroke-width="1.25" />
<line x1="303.70" y1="414.70" x2="311.10" y2="414.70" stroke="#000" stroke-width="1.25" />
<rect x="322.70" y="401.40" width="14.40" height="66.50" fill="#5fa3dd" />
<line x1="329.90" y1="393.20" x2="329.90" y2="401.40" stroke="#000" stroke-width="1.25" />
<line x1="326.20" y1="393.20" x2="333.60" y2="393.20" stroke="#000" stroke-width="1.25" />
<line x1="200.30" y1="376.60" x2="200.30" y2="468.55" stroke="#000" stroke-width="1.3" />
<line x1="197.30" y1="379.20" x2="200.30" y2="379.20" stroke="#000" stroke-width="1.0" />
<text x="194.00" y="381.50" font-size="6.4" text-anchor="end" fill="#1a1a1a" stroke="#1a1a1a" stroke-width="0.06" font-weight="normal" >125%</text>
<line x1="197.30" y1="397.10" x2="200.30" y2="397.10" stroke="#000" stroke-width="1.0" />
<text x="194.00" y="399.40" font-size="6.4" text-anchor="end" fill="#1a1a1a" stroke="#1a1a1a" stroke-width="0.06" font-weight="normal" >100%</text>
<line x1="197.30" y1="415.00" x2="200.30" y2="415.00" stroke="#000" stroke-width="1.0" />
<text x="194.00" y="417.30" font-size="6.4" text-anchor="end" fill="#1a1a1a" stroke="#1a1a1a" stroke-width="0.06" font-weight="normal" >75%</text>
<line x1="197.30" y1="432.90" x2="200.30" y2="432.90" stroke="#000" stroke-width="1.0" />
<text x="194.00" y="435.20" font-size="6.4" text-anchor="end" fill="#1a1a1a" stroke="#1a1a1a" stroke-width="0.06" font-weight="normal" >50%</text>
<line x1="197.30" y1="450.70" x2="200.30" y2="450.70" stroke="#000" stroke-width="1.0" />
<text x="194.00" y="453.00" font-size="6.4" text-anchor="end" fill="#1a1a1a" stroke="#1a1a1a" stroke-width="0.06" font-weight="normal" >25%</text>
<line x1="197.30" y1="468.00" x2="200.30" y2="468.00" stroke="#000" stroke-width="1.0" />
<text x="194.00" y="470.30" font-size="6.4" text-anchor="end" fill="#1a1a1a" stroke="#1a1a1a" stroke-width="0.06" font-weight="normal" >0%</text>
<line x1="199.80" y1="467.90" x2="345.60" y2="467.90" stroke="#000" stroke-width="1.5" />
<line x1="215.75" y1="467.90" x2="215.75" y2="470.50" stroke="#000" stroke-width="1.0" />
<text x="215.75" y="480.71" font-size="6.7" text-anchor="middle" fill="#1a1a1a" stroke="#1a1a1a" stroke-width="0.06" font-weight="normal" >-</text>
<line x1="238.70" y1="467.90" x2="238.70" y2="470.50" stroke="#000" stroke-width="1.0" />
<text x="238.70" y="480.71" font-size="6.7" text-anchor="middle" fill="#1a1a1a" stroke="#1a1a1a" stroke-width="0.06" font-weight="normal" >+</text>
<line x1="261.45" y1="467.90" x2="261.45" y2="470.50" stroke="#000" stroke-width="1.0" />
<text x="261.45" y="480.71" font-size="6.7" text-anchor="middle" fill="#1a1a1a" stroke="#1a1a1a" stroke-width="0.06" font-weight="normal" >-</text>
<line x1="284.10" y1="467.90" x2="284.10" y2="470.50" stroke="#000" stroke-width="1.0" />
<text x="284.10" y="480.71" font-size="6.7" text-anchor="middle" fill="#1a1a1a" stroke="#1a1a1a" stroke-width="0.06" font-weight="normal" >+</text>
<line x1="307.40" y1="467.90" x2="307.40" y2="470.50" stroke="#000" stroke-width="1.0" />
<text x="307.40" y="480.71" font-size="6.7" text-anchor="middle" fill="#1a1a1a" stroke="#1a1a1a" stroke-width="0.06" font-weight="normal" >-</text>
<line x1="329.90" y1="467.90" x2="329.90" y2="470.50" stroke="#000" stroke-width="1.0" />
<text x="329.90" y="480.71" font-size="6.7" text-anchor="middle" fill="#1a1a1a" stroke="#1a1a1a" stroke-width="0.06" font-weight="normal" >+</text>
<text x="191.00" y="480.71" font-size="6.7" text-anchor="middle" fill="#1a1a1a" stroke="#1a1a1a" stroke-width="0.06" font-weight="normal" >HPX</text>
<line x1="261.50" y1="389.30" x2="284.60" y2="389.30" stroke="#333" stroke-width="1.2" />
<text x="272.80" y="386.28" font-size="6.6" text-anchor="middle" fill="#1a1a1a" stroke="#1a1a1a" stroke-width="0.06" font-weight="normal" >0.025</text>
<line x1="307.30" y1="389.30" x2="329.80" y2="389.30" stroke="#333" stroke-width="1.2" />
<text x="318.60" y="386.28" font-size="6.6" text-anchor="middle" fill="#1a1a1a" stroke="#1a1a1a" stroke-width="0.06" font-weight="normal" >0.030</text>
<line x1="208.60" y1="485.40" x2="246.00" y2="485.40" stroke="#4a4a4a" stroke-width="1.45" />
<text x="227.30" y="494.71" font-size="6.7" text-anchor="middle" fill="#1a1a1a" stroke="#1a1a1a" stroke-width="0.06" font-weight="normal" >Control</text>
<line x1="254.20" y1="485.40" x2="291.30" y2="485.40" stroke="#4a4a4a" stroke-width="1.45" />
<text x="272.75" y="494.71" font-size="6.7" text-anchor="middle" fill="#1a1a1a" stroke="#1a1a1a" stroke-width="0.06" font-weight="normal" >RBC Lysate</text>
<line x1="300.40" y1="485.40" x2="337.10" y2="485.40" stroke="#4a4a4a" stroke-width="1.45" />
<text x="318.75" y="494.71" font-size="6.7" text-anchor="middle" fill="#1a1a1a" stroke="#1a1a1a" stroke-width="0.06" font-weight="normal" >Heme</text>
<text x="0" y="0" transform="translate(452.50 355.54) scale(1 1.1)" font-size="8.95" text-anchor="middle" fill="#1a1a1a" stroke="#1a1a1a" stroke-width="0.2" font-weight="normal">Total hemin</text>
<text x="0" y="0" transform="translate(391.90 357.45) scale(1 1.1)" font-size="8.7" text-anchor="middle" fill="#1a1a1a" stroke="#1a1a1a" stroke-width="0.2" font-weight="normal">μM</text>
<rect x="401.80" y="423.30" width="17.20" height="44.80" fill="#2d4f8a" />
<rect x="429.70" y="435.30" width="17.10" height="32.80" fill="#ab0d36" />
<rect x="457.30" y="425.10" width="17.10" height="43.00" fill="#2d4f8a" />
<rect x="485.10" y="432.10" width="17.00" height="36.00" fill="#ab0d36" />
<line x1="391.40" y1="360.60" x2="391.40" y2="468.75" stroke="#000" stroke-width="1.3" />
<line x1="388.40" y1="362.90" x2="391.40" y2="362.90" stroke="#000" stroke-width="1.0" />
<text x="385.20" y="365.20" font-size="6.4" text-anchor="end" fill="#1a1a1a" stroke="#1a1a1a" stroke-width="0.06" font-weight="normal" >200</text>
<line x1="388.40" y1="389.50" x2="391.40" y2="389.50" stroke="#000" stroke-width="1.0" />
<text x="385.20" y="391.80" font-size="6.4" text-anchor="end" fill="#1a1a1a" stroke="#1a1a1a" stroke-width="0.06" font-weight="normal" >150</text>
<line x1="388.40" y1="415.80" x2="391.40" y2="415.80" stroke="#000" stroke-width="1.0" />
<text x="385.20" y="418.10" font-size="6.4" text-anchor="end" fill="#1a1a1a" stroke="#1a1a1a" stroke-width="0.06" font-weight="normal" >100</text>
<line x1="388.40" y1="442.10" x2="391.40" y2="442.10" stroke="#000" stroke-width="1.0" />
<text x="385.20" y="444.40" font-size="6.4" text-anchor="end" fill="#1a1a1a" stroke="#1a1a1a" stroke-width="0.06" font-weight="normal" >50</text>
<line x1="388.40" y1="468.20" x2="391.40" y2="468.20" stroke="#000" stroke-width="1.0" />
<text x="385.20" y="470.50" font-size="6.4" text-anchor="end" fill="#1a1a1a" stroke="#1a1a1a" stroke-width="0.06" font-weight="normal" >0</text>
<line x1="390.90" y1="468.10" x2="512.50" y2="468.10" stroke="#000" stroke-width="1.5" />
<line x1="410.40" y1="468.10" x2="410.40" y2="470.70" stroke="#000" stroke-width="1.0" />
<line x1="438.25" y1="468.10" x2="438.25" y2="470.70" stroke="#000" stroke-width="1.0" />
<line x1="465.85" y1="468.10" x2="465.85" y2="470.70" stroke="#000" stroke-width="1.0" />
<line x1="493.60" y1="468.10" x2="493.60" y2="470.70" stroke="#000" stroke-width="1.0" />
<line x1="410.30" y1="416.10" x2="410.30" y2="429.50" stroke="#000" stroke-width="1.25" />
<line x1="406.60" y1="416.10" x2="414.00" y2="416.10" stroke="#000" stroke-width="1.25" />
<line x1="406.60" y1="429.50" x2="414.00" y2="429.50" stroke="#000" stroke-width="1.25" />
<line x1="438.20" y1="428.10" x2="438.20" y2="441.30" stroke="#000" stroke-width="1.25" />
<line x1="435.00" y1="428.10" x2="441.40" y2="428.10" stroke="#000" stroke-width="1.25" />
<line x1="435.00" y1="441.30" x2="441.40" y2="441.30" stroke="#000" stroke-width="1.25" />
<line x1="465.70" y1="416.50" x2="465.70" y2="432.60" stroke="#000" stroke-width="1.25" />
<line x1="461.90" y1="416.50" x2="469.50" y2="416.50" stroke="#000" stroke-width="1.25" />
<line x1="461.90" y1="432.60" x2="469.50" y2="432.60" stroke="#000" stroke-width="1.25" />
<line x1="493.50" y1="423.70" x2="493.50" y2="439.10" stroke="#000" stroke-width="1.25" />
<line x1="489.70" y1="423.70" x2="497.30" y2="423.70" stroke="#000" stroke-width="1.25" />
<line x1="489.70" y1="439.10" x2="497.30" y2="439.10" stroke="#000" stroke-width="1.25" />
<circle cx="410.30" cy="372.60" r="1.95" fill="#000"/>
<circle cx="406.10" cy="392.00" r="1.95" fill="#000"/>
<circle cx="414.70" cy="389.70" r="1.95" fill="#000"/>
<circle cx="406.20" cy="417.00" r="1.95" fill="#000"/>
<circle cx="406.20" cy="421.80" r="1.95" fill="#000"/>
<circle cx="414.80" cy="420.40" r="1.95" fill="#000"/>
<circle cx="406.20" cy="430.20" r="1.95" fill="#000"/>
<circle cx="414.80" cy="432.40" r="1.95" fill="#000"/>
<circle cx="406.20" cy="438.20" r="1.95" fill="#000"/>
<circle cx="414.80" cy="439.10" r="1.95" fill="#000"/>
<circle cx="410.30" cy="443.90" r="1.95" fill="#000"/>
<circle cx="406.20" cy="448.80" r="1.95" fill="#000"/>
<circle cx="414.80" cy="448.10" r="1.95" fill="#000"/>
<rect x="436.35" y="401.95" width="3.70" height="3.70" fill="#000" />
<rect x="432.25" y="424.15" width="3.70" height="3.70" fill="#000" />
<rect x="440.35" y="421.95" width="3.70" height="3.70" fill="#000" />
<rect x="432.25" y="441.65" width="3.70" height="3.70" fill="#000" />
<rect x="440.35" y="441.45" width="3.70" height="3.70" fill="#000" />
<rect x="440.35" y="447.15" width="3.70" height="3.70" fill="#000" />
<rect x="432.25" y="450.75" width="3.70" height="3.70" fill="#000" />
<polygon points="463.65,376.00 467.75,376.00 465.70,372.20" fill="#000"/>
<polygon points="463.65,409.60 467.75,409.60 465.70,405.80" fill="#000"/>
<polygon points="459.45,419.30 463.55,419.30 461.50,415.50" fill="#000"/>
<polygon points="468.15,421.40 472.25,421.40 470.20,417.60" fill="#000"/>
<polygon points="463.65,427.30 467.75,427.30 465.70,423.50" fill="#000"/>
<polygon points="468.15,442.00 472.25,442.00 470.20,438.20" fill="#000"/>
<polygon points="459.45,445.50 463.55,445.50 461.50,441.70" fill="#000"/>
<polygon points="468.15,449.40 472.25,449.40 470.20,445.60" fill="#000"/>
<polygon points="459.45,451.50 463.55,451.50 461.50,447.70" fill="#000"/>
<polygon points="491.45,392.50 495.55,392.50 493.50,396.30" fill="#000"/>
<polygon points="487.45,428.80 491.55,428.80 489.50,432.60" fill="#000"/>
<polygon points="496.15,430.90 500.25,430.90 498.20,434.70" fill="#000"/>
<polygon points="487.45,433.70 491.55,433.70 489.50,437.50" fill="#000"/>
<polygon points="487.45,444.90 491.55,444.90 489.50,448.70" fill="#000"/>
<polygon points="496.15,442.80 500.25,442.80 498.20,446.60" fill="#000"/>
<line x1="401.50" y1="474.50" x2="446.80" y2="474.50" stroke="#4a4a4a" stroke-width="1.45" />
<line x1="457.00" y1="474.50" x2="501.80" y2="474.50" stroke="#4a4a4a" stroke-width="1.45" />
<text x="424.30" y="484.45" font-size="6.8" text-anchor="middle" fill="#1a1a1a" stroke="#1a1a1a" stroke-width="0.06" font-weight="normal" >Before</text>
<text x="479.50" y="484.45" font-size="6.8" text-anchor="middle" fill="#1a1a1a" stroke="#1a1a1a" stroke-width="0.06" font-weight="normal" >After</text>
<rect x="476.30" y="360.30" width="6.50" height="6.50" fill="#2d4f8a" />
<rect x="476.30" y="373.80" width="6.50" height="6.50" fill="#ab0d36" />
<text x="485.50" y="366.02" font-size="7.0" text-anchor="start" fill="#1a1a1a" stroke="#1a1a1a" stroke-width="0.06" font-weight="normal" >Allo (-)</text>
<text x="485.50" y="379.52" font-size="7.0" text-anchor="start" fill="#1a1a1a" stroke="#1a1a1a" stroke-width="0.06" font-weight="normal" >Allo (+)</text>
<text x="0" y="0" transform="translate(96.30 533.06) scale(1 1.1)" font-size="9.0" text-anchor="middle" fill="#1a1a1a" stroke="#1a1a1a" stroke-width="0.2" font-weight="normal">%CD38+ plasmablasts</text>
<rect x="55.10" y="598.00" width="18.80" height="46.00" fill="#c7c6cc" />
<rect x="86.10" y="619.50" width="19.50" height="24.50" fill="#2d4f8a" />
<rect x="117.10" y="618.10" width="19.80" height="25.90" fill="#ab0d36" />
<line x1="64.50" y1="588.60" x2="64.50" y2="605.50" stroke="#000" stroke-width="1.25" />
<line x1="60.90" y1="588.60" x2="68.10" y2="588.60" stroke="#000" stroke-width="1.25" />
<line x1="60.90" y1="605.50" x2="68.10" y2="605.50" stroke="#000" stroke-width="1.25" />
<line x1="95.80" y1="613.40" x2="95.80" y2="623.50" stroke="#000" stroke-width="1.25" />
<line x1="92.20" y1="613.40" x2="99.40" y2="613.40" stroke="#000" stroke-width="1.25" />
<line x1="92.20" y1="623.50" x2="99.40" y2="623.50" stroke="#000" stroke-width="1.25" />
<line x1="126.80" y1="610.00" x2="126.80" y2="624.70" stroke="#000" stroke-width="1.25" />
<line x1="122.90" y1="610.00" x2="130.70" y2="610.00" stroke="#000" stroke-width="1.25" />
<line x1="122.90" y1="624.70" x2="130.70" y2="624.70" stroke="#000" stroke-width="1.25" />
<circle cx="64.50" cy="559.70" r="2.1" fill="#000"/>
<circle cx="64.50" cy="573.80" r="2.1" fill="#000"/>
<circle cx="64.50" cy="580.70" r="2.1" fill="#000"/>
<circle cx="60.20" cy="587.90" r="2.1" fill="#000"/>
<circle cx="68.80" cy="587.90" r="2.1" fill="#000"/>
<circle cx="64.50" cy="601.90" r="2.1" fill="#000"/>
<circle cx="64.50" cy="623.20" r="2.1" fill="#000"/>
<circle cx="60.20" cy="630.00" r="2.1" fill="#000"/>
<circle cx="68.80" cy="630.00" r="2.1" fill="#000"/>
<rect x="93.85" y="582.65" width="3.90" height="3.90" fill="#000" />
<rect x="89.45" y="608.85" width="3.90" height="3.90" fill="#000" />
<rect x="97.85" y="607.15" width="3.90" height="3.90" fill="#000" />
<rect x="97.85" y="614.05" width="3.90" height="3.90" fill="#000" />
<rect x="89.45" y="618.25" width="3.90" height="3.90" fill="#000" />
<rect x="97.85" y="623.25" width="3.90" height="3.90" fill="#000" />
<rect x="89.45" y="625.85" width="3.90" height="3.90" fill="#000" />
<rect x="93.85" y="634.25" width="3.90" height="3.90" fill="#000" />
<rect x="93.85" y="639.15" width="3.90" height="3.90" fill="#000" />
<polygon points="124.85,573.65 128.75,573.65 126.80,569.95" fill="#000"/>
<polygon points="124.85,608.95 128.75,608.95 126.80,605.25" fill="#000"/>
<polygon points="133.15,616.25 137.05,616.25 135.10,612.55" fill="#000"/>
<polygon points="124.85,620.35 128.75,620.35 126.80,616.65" fill="#000"/>
<polygon points="116.55,631.75 120.45,631.75 118.50,628.05" fill="#000"/>
<polygon points="133.15,632.15 137.05,632.15 135.10,628.45" fill="#000"/>
<polygon points="124.85,634.65 128.75,634.65 126.80,630.95" fill="#000"/>
<polygon points="124.85,640.95 128.75,640.95 126.80,637.25" fill="#000"/>
<line x1="43.60" y1="536.30" x2="43.60" y2="644.65" stroke="#000" stroke-width="1.3" />
<line x1="40.60" y1="538.80" x2="43.60" y2="538.80" stroke="#000" stroke-width="1.0" />
<text x="37.20" y="541.10" font-size="6.4" text-anchor="end" fill="#1a1a1a" stroke="#1a1a1a" stroke-width="0.06" font-weight="normal" >15%</text>
<line x1="40.60" y1="573.80" x2="43.60" y2="573.80" stroke="#000" stroke-width="1.0" />
<text x="37.20" y="576.10" font-size="6.4" text-anchor="end" fill="#1a1a1a" stroke="#1a1a1a" stroke-width="0.06" font-weight="normal" >10%</text>
<line x1="40.60" y1="608.80" x2="43.60" y2="608.80" stroke="#000" stroke-width="1.0" />
<text x="37.20" y="611.10" font-size="6.4" text-anchor="end" fill="#1a1a1a" stroke="#1a1a1a" stroke-width="0.06" font-weight="normal" >5%</text>
<line x1="40.60" y1="644.00" x2="43.60" y2="644.00" stroke="#000" stroke-width="1.0" />
<text x="37.20" y="646.30" font-size="6.4" text-anchor="end" fill="#1a1a1a" stroke="#1a1a1a" stroke-width="0.06" font-weight="normal" >0%</text>
<line x1="43.10" y1="644.00" x2="148.40" y2="644.00" stroke="#000" stroke-width="1.5" />
<line x1="64.50" y1="644.00" x2="64.50" y2="646.60" stroke="#000" stroke-width="1.0" />
<text x="64.50" y="656.11" font-size="6.7" text-anchor="middle" fill="#1a1a1a" stroke="#1a1a1a" stroke-width="0.06" font-weight="normal" >HD</text>
<line x1="95.85" y1="644.00" x2="95.85" y2="646.60" stroke="#000" stroke-width="1.0" />
<text x="95.85" y="656.11" font-size="6.7" text-anchor="middle" fill="#1a1a1a" stroke="#1a1a1a" stroke-width="0.06" font-weight="normal" >Allo(-)</text>
<line x1="127.00" y1="644.00" x2="127.00" y2="646.60" stroke="#000" stroke-width="1.0" />
<text x="127.00" y="656.11" font-size="6.7" text-anchor="middle" fill="#1a1a1a" stroke="#1a1a1a" stroke-width="0.06" font-weight="normal" >Allo(+)</text>
<text x="0" y="0" transform="translate(319.00 532.86) scale(1 1.1)" font-size="9.0" text-anchor="middle" fill="#1a1a1a" stroke="#1a1a1a" stroke-width="0.2" font-weight="normal">%CD38+ plasmablasts</text>
<rect x="207.40" y="578.80" width="12.80" height="65.40" fill="#c5c7dd" />
<rect x="228.30" y="594.70" width="12.80" height="49.50" fill="#7c84b0" />
<rect x="249.40" y="599.70" width="13.00" height="44.50" fill="#2c4b86" />
<rect x="291.40" y="577.20" width="12.80" height="67.00" fill="#c5c7dd" />
<rect x="312.70" y="601.50" width="12.60" height="42.70" fill="#7c84b0" />
<rect x="333.40" y="617.20" width="12.90" height="27.00" fill="#2c4b86" />
<rect x="375.90" y="577.10" width="12.30" height="67.10" fill="#c5c7dd" />
<rect x="396.80" y="584.90" width="12.30" height="59.30" fill="#7c84b0" />
<rect x="417.70" y="588.20" width="12.50" height="56.00" fill="#2c4b86" />
<line x1="234.80" y1="589.90" x2="234.80" y2="599.00" stroke="#000" stroke-width="1.25" />
<line x1="231.60" y1="589.90" x2="238.00" y2="589.90" stroke="#000" stroke-width="1.25" />
<line x1="231.60" y1="599.00" x2="238.00" y2="599.00" stroke="#000" stroke-width="1.25" />
<line x1="255.90" y1="593.40" x2="255.90" y2="602.80" stroke="#000" stroke-width="1.25" />
<line x1="252.70" y1="593.40" x2="259.10" y2="593.40" stroke="#000" stroke-width="1.25" />
<line x1="252.70" y1="602.80" x2="259.10" y2="602.80" stroke="#000" stroke-width="1.25" />
<line x1="319.00" y1="594.30" x2="319.00" y2="607.10" stroke="#000" stroke-width="1.25" />
<line x1="315.80" y1="594.30" x2="322.20" y2="594.30" stroke="#000" stroke-width="1.25" />
<line x1="315.80" y1="607.10" x2="322.20" y2="607.10" stroke="#000" stroke-width="1.25" />
<line x1="340.10" y1="611.10" x2="340.10" y2="620.60" stroke="#000" stroke-width="1.25" />
<line x1="336.90" y1="611.10" x2="343.30" y2="611.10" stroke="#000" stroke-width="1.25" />
<line x1="336.90" y1="620.60" x2="343.30" y2="620.60" stroke="#000" stroke-width="1.25" />
<line x1="403.00" y1="576.70" x2="403.00" y2="590.10" stroke="#000" stroke-width="1.25" />
<line x1="399.80" y1="576.70" x2="406.20" y2="576.70" stroke="#000" stroke-width="1.25" />
<line x1="399.80" y1="590.10" x2="406.20" y2="590.10" stroke="#000" stroke-width="1.25" />
<line x1="423.90" y1="580.50" x2="423.90" y2="594.00" stroke="#000" stroke-width="1.25" />
<line x1="420.70" y1="580.50" x2="427.10" y2="580.50" stroke="#000" stroke-width="1.25" />
<line x1="420.70" y1="594.00" x2="427.10" y2="594.00" stroke="#000" stroke-width="1.25" />
<polygon points="230.35,573.25 234.25,573.25 232.30,569.55" fill="#000"/>
<polygon points="235.55,571.55 239.45,571.55 237.50,567.85" fill="#000"/>
<polygon points="230.35,580.45 234.25,580.45 232.30,576.75" fill="#000"/>
<polygon points="235.55,579.05 239.45,579.05 237.50,575.35" fill="#000"/>
<polygon points="232.85,588.05 236.75,588.05 234.80,584.35" fill="#000"/>
<polygon points="232.85,596.55 236.75,596.55 234.80,592.85" fill="#000"/>
<polygon points="227.95,598.15 231.85,598.15 229.90,594.45" fill="#000"/>
<polygon points="227.95,602.25 231.85,602.25 229.90,598.55" fill="#000"/>
<polygon points="232.85,602.25 236.75,602.25 234.80,598.55" fill="#000"/>
<polygon points="237.75,600.25 241.65,600.25 239.70,596.55" fill="#000"/>
<polygon points="227.95,609.25 231.85,609.25 229.90,605.55" fill="#000"/>
<polygon points="237.75,610.95 241.65,610.95 239.70,607.25" fill="#000"/>
<polygon points="232.85,612.75 236.75,612.75 234.80,609.05" fill="#000"/>
<polygon points="232.85,626.15 236.75,626.15 234.80,622.45" fill="#000"/>
<polygon points="253.95,575.95 257.85,575.95 255.90,572.25" fill="#000"/>
<polygon points="248.95,587.65 252.85,587.65 250.90,583.95" fill="#000"/>
<polygon points="259.05,588.05 262.95,588.05 261.00,584.35" fill="#000"/>
<polygon points="253.95,590.75 257.85,590.75 255.90,587.05" fill="#000"/>
<polygon points="251.25,601.15 255.15,601.15 253.20,597.45" fill="#000"/>
<polygon points="256.65,601.95 260.55,601.95 258.60,598.25" fill="#000"/>
<polygon points="253.95,606.25 257.85,606.25 255.90,602.55" fill="#000"/>
<polygon points="253.95,616.75 257.85,616.75 255.90,613.05" fill="#000"/>
<polygon points="248.95,622.65 252.85,622.65 250.90,618.95" fill="#000"/>
<polygon points="259.05,620.35 262.95,620.35 261.00,616.65" fill="#000"/>
<polygon points="295.95,578.65 299.85,578.65 297.90,574.95" fill="#000"/>
<polygon points="312.05,584.05 315.95,584.05 314.00,580.35" fill="#000"/>
<polygon points="322.15,581.35 326.05,581.35 324.10,577.65" fill="#000"/>
<polygon points="312.05,590.75 315.95,590.75 314.00,587.05" fill="#000"/>
<polygon points="322.15,589.85 326.05,589.85 324.10,586.15" fill="#000"/>
<polygon points="312.05,612.35 315.95,612.35 314.00,608.65" fill="#000"/>
<polygon points="322.15,611.35 326.05,611.35 324.10,607.65" fill="#000"/>
<polygon points="317.05,623.75 320.95,623.75 319.00,620.05" fill="#000"/>
<polygon points="317.05,629.45 320.95,629.45 319.00,625.75" fill="#000"/>
<polygon points="338.15,593.05 342.05,593.05 340.10,589.35" fill="#000"/>
<polygon points="338.15,605.55 342.05,605.55 340.10,601.85" fill="#000"/>
<polygon points="333.25,617.75 337.15,617.75 335.20,614.05" fill="#000"/>
<polygon points="343.05,616.75 346.95,616.75 345.00,613.05" fill="#000"/>
<polygon points="333.25,623.05 337.15,623.05 335.20,619.35" fill="#000"/>
<polygon points="343.05,623.05 346.95,623.05 345.00,619.35" fill="#000"/>
<polygon points="338.15,631.15 342.05,631.15 340.10,627.45" fill="#000"/>
<polygon points="338.15,636.55 342.05,636.55 340.10,632.85" fill="#000"/>
<polygon points="380.15,578.55 384.05,578.55 382.10,574.85" fill="#000"/>
<polygon points="401.05,563.05 404.95,563.05 403.00,559.35" fill="#000"/>
<polygon points="401.05,570.85 404.95,570.85 403.00,567.15" fill="#000"/>
<polygon points="401.05,579.25 404.95,579.25 403.00,575.55" fill="#000"/>
<polygon points="396.35,589.65 400.25,589.65 398.30,585.95" fill="#000"/>
<polygon points="406.15,587.55 410.05,587.55 408.10,583.85" fill="#000"/>
<polygon points="396.35,606.65 400.25,606.65 398.30,602.95" fill="#000"/>
<polygon points="406.15,606.35 410.05,606.35 408.10,602.65" fill="#000"/>
<polygon points="417.25,574.15 421.15,574.15 419.20,570.45" fill="#000"/>
<polygon points="427.25,573.75 431.15,573.75 429.20,570.05" fill="#000"/>
<polygon points="421.95,582.35 425.85,582.35 423.90,578.65" fill="#000"/>
<polygon points="421.95,588.55 425.85,588.55 423.90,584.85" fill="#000"/>
<polygon points="417.65,610.25 421.55,610.25 419.60,606.55" fill="#000"/>
<polygon points="427.25,608.35 431.15,608.35 429.20,604.65" fill="#000"/>
<polygon points="207.25,578.70 210.15,578.70 208.70,575.70" fill="#000"/>
<polygon points="209.40,578.70 212.30,578.70 210.85,575.70" fill="#000"/>
<polygon points="211.55,578.70 214.45,578.70 213.00,575.70" fill="#000"/>
<polygon points="213.70,578.70 216.60,578.70 215.15,575.70" fill="#000"/>
<polygon points="215.85,578.70 218.75,578.70 217.30,575.70" fill="#000"/>
<polygon points="218.00,578.70 220.90,578.70 219.45,575.70" fill="#000"/>
<line x1="199.40" y1="540.60" x2="199.40" y2="644.85" stroke="#000" stroke-width="1.3" />
<line x1="196.40" y1="542.50" x2="199.40" y2="542.50" stroke="#000" stroke-width="1.0" />
<text x="193.00" y="544.80" font-size="6.4" text-anchor="end" fill="#1a1a1a" stroke="#1a1a1a" stroke-width="0.06" font-weight="normal" >150%</text>
<line x1="196.40" y1="576.80" x2="199.40" y2="576.80" stroke="#000" stroke-width="1.0" />
<text x="193.00" y="579.10" font-size="6.4" text-anchor="end" fill="#1a1a1a" stroke="#1a1a1a" stroke-width="0.06" font-weight="normal" >100%</text>
<line x1="196.40" y1="610.50" x2="199.40" y2="610.50" stroke="#000" stroke-width="1.0" />
<text x="193.00" y="612.80" font-size="6.4" text-anchor="end" fill="#1a1a1a" stroke="#1a1a1a" stroke-width="0.06" font-weight="normal" >50%</text>
<line x1="196.40" y1="644.20" x2="199.40" y2="644.20" stroke="#000" stroke-width="1.0" />
<text x="193.00" y="646.50" font-size="6.4" text-anchor="end" fill="#1a1a1a" stroke="#1a1a1a" stroke-width="0.06" font-weight="normal" >0%</text>
<line x1="198.90" y1="644.20" x2="436.40" y2="644.20" stroke="#000" stroke-width="1.5" />
<line x1="213.80" y1="644.20" x2="213.80" y2="646.80" stroke="#000" stroke-width="1.0" />
<text x="213.80" y="656.01" font-size="6.7" text-anchor="middle" fill="#1a1a1a" stroke="#1a1a1a" stroke-width="0.06" font-weight="normal" >0</text>
<line x1="234.70" y1="644.20" x2="234.70" y2="646.80" stroke="#000" stroke-width="1.0" />
<text x="234.70" y="656.01" font-size="6.7" text-anchor="middle" fill="#1a1a1a" stroke="#1a1a1a" stroke-width="0.06" font-weight="normal" >2.5</text>
<line x1="255.90" y1="644.20" x2="255.90" y2="646.80" stroke="#000" stroke-width="1.0" />
<text x="255.90" y="656.01" font-size="6.7" text-anchor="middle" fill="#1a1a1a" stroke="#1a1a1a" stroke-width="0.06" font-weight="normal" >5</text>
<line x1="297.80" y1="644.20" x2="297.80" y2="646.80" stroke="#000" stroke-width="1.0" />
<text x="297.80" y="656.01" font-size="6.7" text-anchor="middle" fill="#1a1a1a" stroke="#1a1a1a" stroke-width="0.06" font-weight="normal" >0</text>
<line x1="319.00" y1="644.20" x2="319.00" y2="646.80" stroke="#000" stroke-width="1.0" />
<text x="319.00" y="656.01" font-size="6.7" text-anchor="middle" fill="#1a1a1a" stroke="#1a1a1a" stroke-width="0.06" font-weight="normal" >2.5</text>
<line x1="339.85" y1="644.20" x2="339.85" y2="646.80" stroke="#000" stroke-width="1.0" />
<text x="339.85" y="656.01" font-size="6.7" text-anchor="middle" fill="#1a1a1a" stroke="#1a1a1a" stroke-width="0.06" font-weight="normal" >5</text>
<line x1="382.05" y1="644.20" x2="382.05" y2="646.80" stroke="#000" stroke-width="1.0" />
<text x="382.05" y="656.01" font-size="6.7" text-anchor="middle" fill="#1a1a1a" stroke="#1a1a1a" stroke-width="0.06" font-weight="normal" >0</text>
<line x1="402.95" y1="644.20" x2="402.95" y2="646.80" stroke="#000" stroke-width="1.0" />
<text x="402.95" y="656.01" font-size="6.7" text-anchor="middle" fill="#1a1a1a" stroke="#1a1a1a" stroke-width="0.06" font-weight="normal" >2.5</text>
<line x1="423.95" y1="644.20" x2="423.95" y2="646.80" stroke="#000" stroke-width="1.0" />
<text x="423.95" y="656.01" font-size="6.7" text-anchor="middle" fill="#1a1a1a" stroke="#1a1a1a" stroke-width="0.06" font-weight="normal" >5</text>
<line x1="277.00" y1="644.20" x2="277.00" y2="646.80" stroke="#000" stroke-width="1.0" />
<line x1="361.30" y1="644.20" x2="361.30" y2="646.80" stroke="#000" stroke-width="1.0" />
<line x1="209.60" y1="660.80" x2="255.10" y2="660.80" stroke="#4a4a4a" stroke-width="1.45" />
<text x="232.35" y="671.01" font-size="6.7" text-anchor="middle" fill="#1a1a1a" stroke="#1a1a1a" stroke-width="0.06" font-weight="normal" >HD</text>
<line x1="294.10" y1="660.80" x2="338.80" y2="660.80" stroke="#4a4a4a" stroke-width="1.45" />
<text x="316.45" y="671.01" font-size="6.7" text-anchor="middle" fill="#1a1a1a" stroke="#1a1a1a" stroke-width="0.06" font-weight="normal" >Allo (-)</text>
<line x1="378.00" y1="660.80" x2="422.70" y2="660.80" stroke="#4a4a4a" stroke-width="1.45" />
<text x="400.35" y="671.01" font-size="6.7" text-anchor="middle" fill="#1a1a1a" stroke="#1a1a1a" stroke-width="0.06" font-weight="normal" >Allo (+)</text>
<line x1="340.10" y1="565.00" x2="423.90" y2="565.00" stroke="#c83a5e" stroke-width="1.3" />
<text x="382.00" y="562.11" font-size="6.7" text-anchor="middle" fill="#c83a5e" stroke="#c83a5e" stroke-width="0.06" font-weight="normal" >0.0039</text>
<rect x="203.40" y="544.00" width="6.20" height="6.20" fill="#c5c7dd" />
<text x="212.90" y="549.55" font-size="6.8" text-anchor="start" fill="#1a1a1a" stroke="#1a1a1a" stroke-width="0.06" font-weight="normal" >Heme 0μM</text>
<rect x="256.00" y="544.00" width="6.20" height="6.20" fill="#7c84b0" />
<text x="265.60" y="549.55" font-size="6.8" text-anchor="start" fill="#1a1a1a" stroke="#1a1a1a" stroke-width="0.06" font-weight="normal" >Heme 2.5μM</text>
<rect x="315.00" y="544.00" width="6.20" height="6.20" fill="#2c4b86" />
<text x="324.50" y="549.55" font-size="6.8" text-anchor="start" fill="#1a1a1a" stroke="#1a1a1a" stroke-width="0.06" font-weight="normal" >Heme 5μM</text>
<rect x="0.6" y="0.6" width="518.8" height="678.8" fill="none" stroke="#000" stroke-width="1.25"/>
</g></svg>
</body></html>
